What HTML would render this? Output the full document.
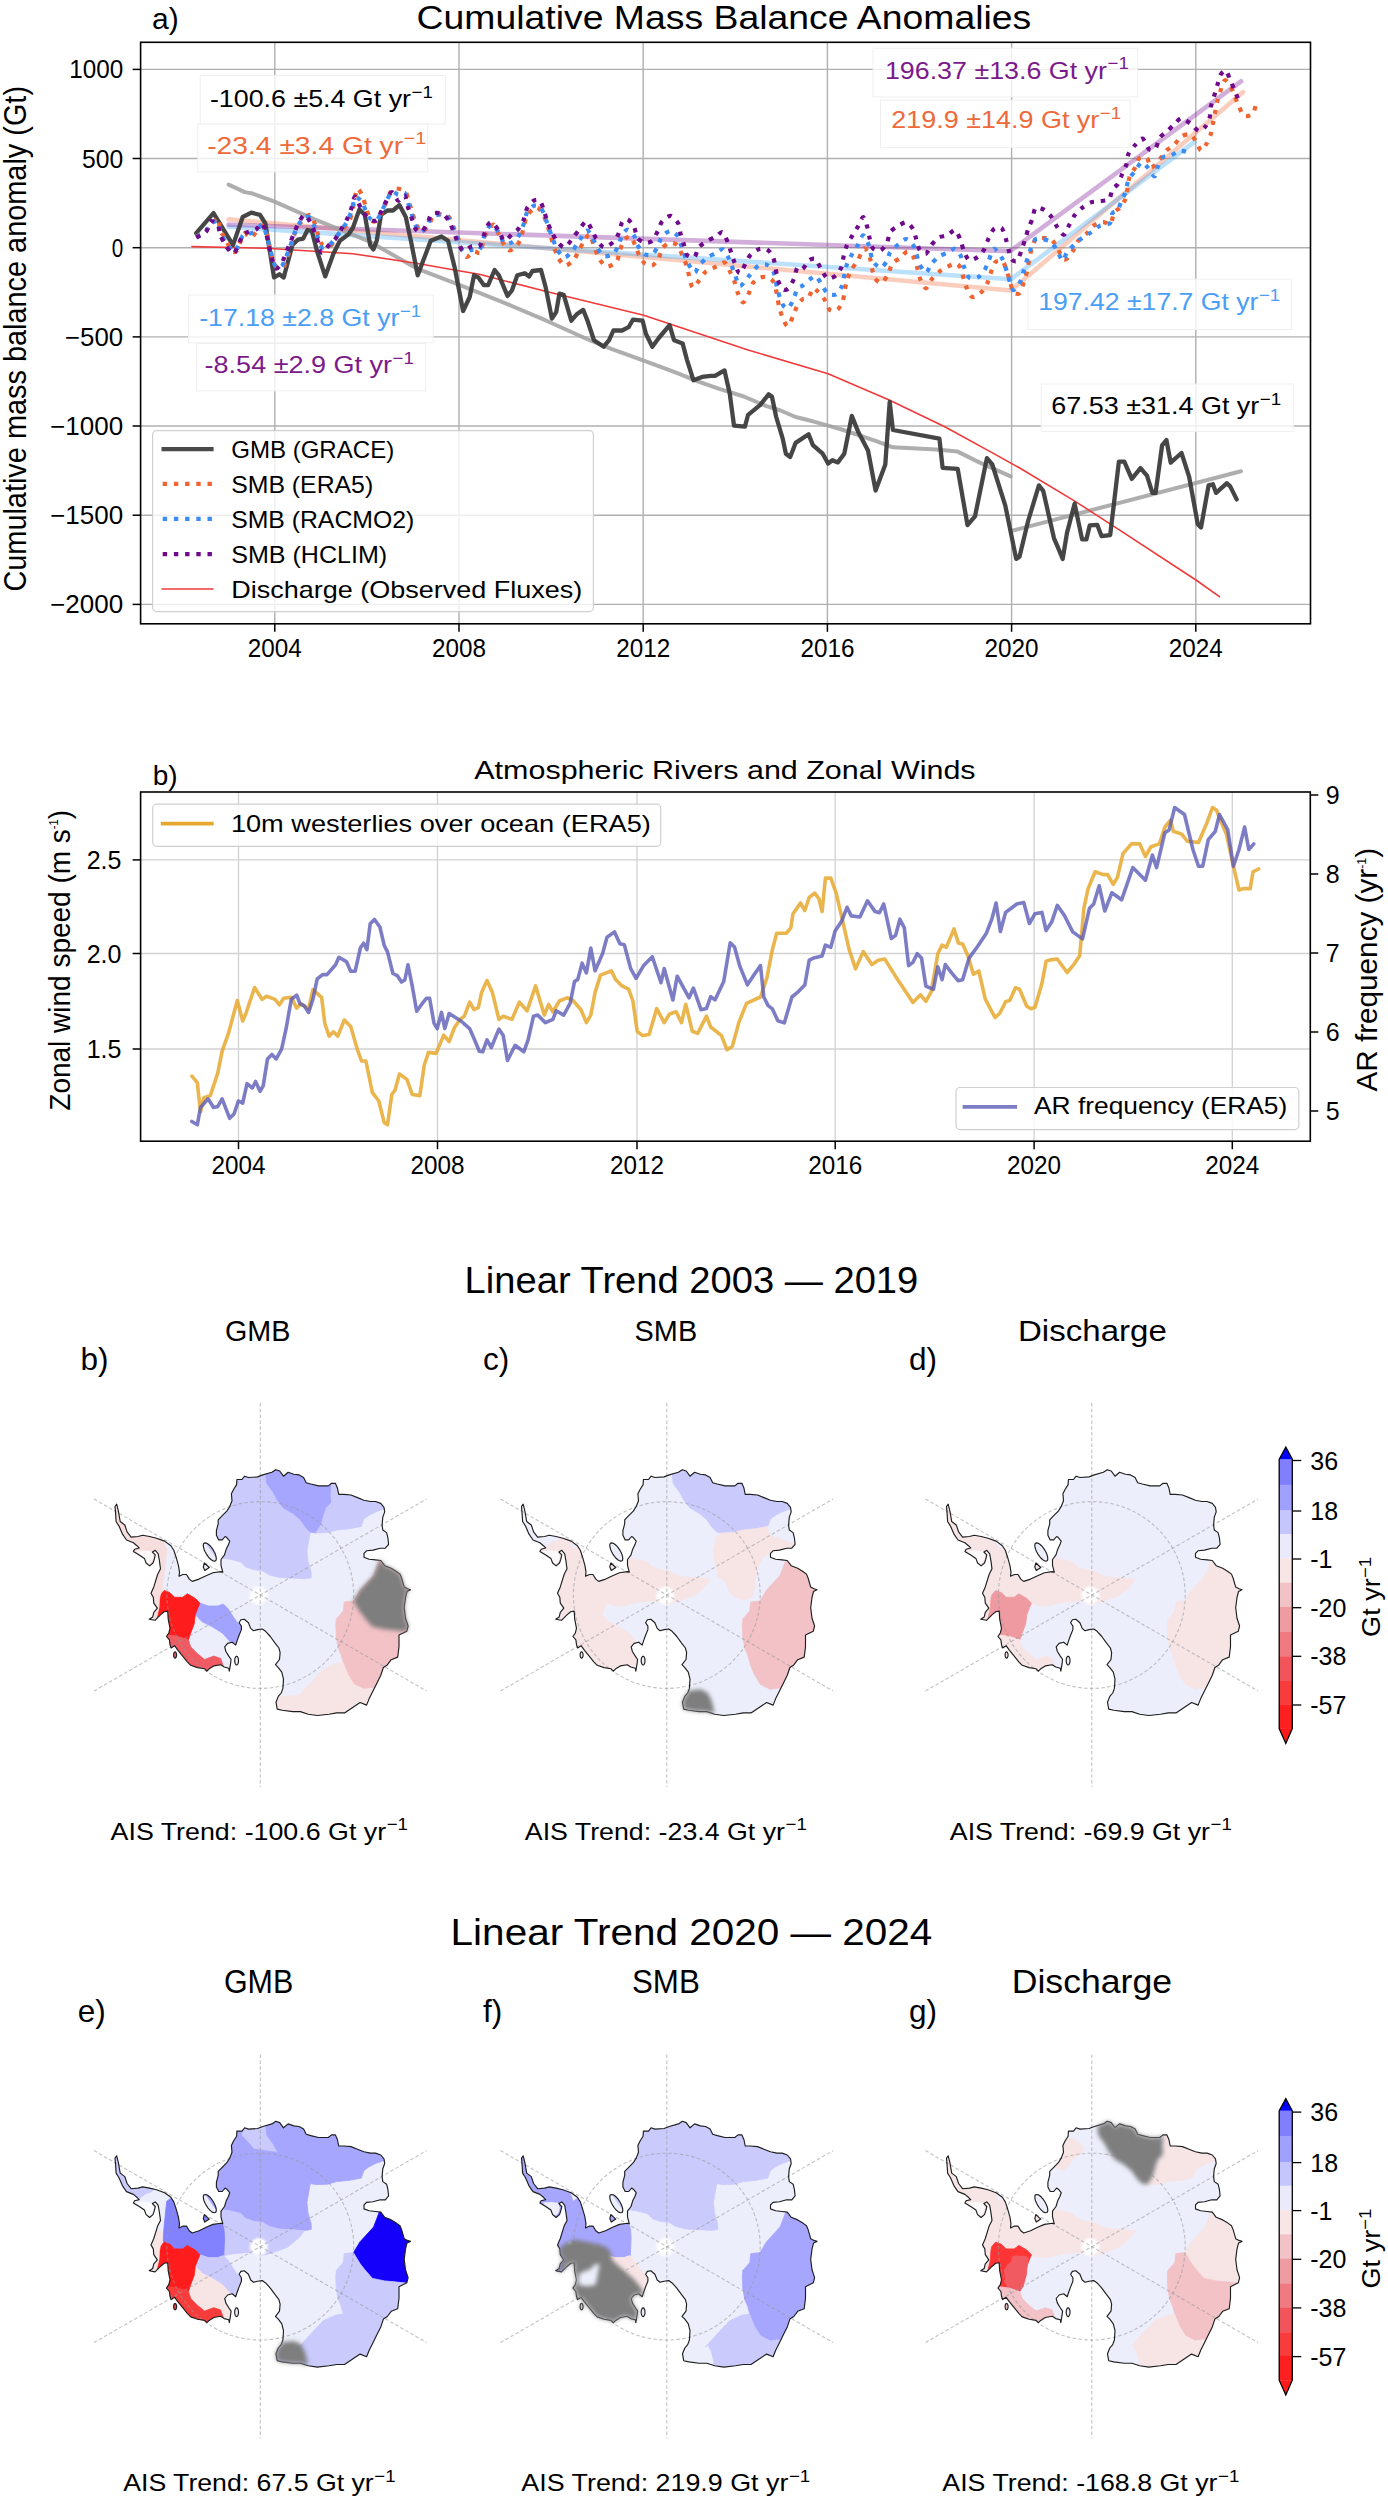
<!DOCTYPE html><html><head><meta charset="utf-8"><style>html,body{margin:0;padding:0;background:#fff;overflow:hidden;}svg{display:block;}text{font-family:"Liberation Sans", sans-serif;}</style></head><body>
<svg width="1388" height="2500" viewBox="0 0 1388 2500">
<rect width="1388" height="2500" fill="#fff"/>
<defs><clipPath id="clipA"><rect x="140.6" y="42.3" width="1169.9" height="581.5"/></clipPath>
<clipPath id="clipB"><rect x="140.6" y="792" width="1169.7" height="349.20000000000005"/></clipPath></defs>
<line x1="274.8" y1="42.3" x2="274.8" y2="623.8" stroke="#b0b0b0" stroke-width="1.4"/>
<line x1="459.0" y1="42.3" x2="459.0" y2="623.8" stroke="#b0b0b0" stroke-width="1.4"/>
<line x1="643.2" y1="42.3" x2="643.2" y2="623.8" stroke="#b0b0b0" stroke-width="1.4"/>
<line x1="827.4" y1="42.3" x2="827.4" y2="623.8" stroke="#b0b0b0" stroke-width="1.4"/>
<line x1="1011.6" y1="42.3" x2="1011.6" y2="623.8" stroke="#b0b0b0" stroke-width="1.4"/>
<line x1="1195.8" y1="42.3" x2="1195.8" y2="623.8" stroke="#b0b0b0" stroke-width="1.4"/>
<line x1="140.6" y1="69.4" x2="1310.5" y2="69.4" stroke="#b0b0b0" stroke-width="1.4"/>
<line x1="140.6" y1="158.5" x2="1310.5" y2="158.5" stroke="#b0b0b0" stroke-width="1.4"/>
<line x1="140.6" y1="247.7" x2="1310.5" y2="247.7" stroke="#b0b0b0" stroke-width="1.4"/>
<line x1="140.6" y1="336.9" x2="1310.5" y2="336.9" stroke="#b0b0b0" stroke-width="1.4"/>
<line x1="140.6" y1="426.0" x2="1310.5" y2="426.0" stroke="#b0b0b0" stroke-width="1.4"/>
<line x1="140.6" y1="515.2" x2="1310.5" y2="515.2" stroke="#b0b0b0" stroke-width="1.4"/>
<line x1="140.6" y1="604.4" x2="1310.5" y2="604.4" stroke="#b0b0b0" stroke-width="1.4"/>
<g clip-path="url(#clipA)" fill="none" stroke-linejoin="round" stroke-linecap="round">
<polyline points="228.6,219.2 1011.0,290.5 1243.1,92.1" stroke="#f07040" stroke-opacity="0.35" stroke-width="4.6"/>
<polyline points="228.6,226.7 1011.0,279.2 1194.5,141.9" stroke="#40a8f8" stroke-opacity="0.35" stroke-width="4.6"/>
<polyline points="228.6,224.6 1010.0,251.2 1241.0,81.3" stroke="#8a2aa0" stroke-opacity="0.38" stroke-width="4.6"/>
<polyline points="228.6,184.6 244.8,192.1 251.3,193.2 275.1,201.9 314.0,219.2 368.0,240.8 417.7,268.9 460.0,285.1 503.2,302.4 546.4,320.7 589.7,340.2 611.3,348.8 643.7,360.7 676.1,372.6 697.7,381.3 719.3,388.8 743.8,396.5 766.5,406.2 780.5,410.5 795.6,417.0 812.9,421.3 828.1,425.6 843.2,430.0 875.6,440.8 892.9,447.3 936.1,449.4 957.7,451.6 979.3,462.4 1010.7,476.4" stroke="#a0a0a0" stroke-opacity="0.85" stroke-width="4"/>
<polyline points="1011.9,530.8 1241.0,471.3" stroke="#a0a0a0" stroke-opacity="0.85" stroke-width="4"/>
<polyline points="191.9,246.6 266.5,248.3 352.9,253.7 417.7,263.5 460.0,271.0 479.3,274.3 546.4,291.6 643.7,315.3 748.1,350.0 828.1,373.8 888.6,399.7 944.8,426.7 990.2,451.6 1019.3,467.8 1075.6,501.6 1112.4,525.4 1196.7,580.5 1219.4,596.7" stroke="#f03a3a" stroke-width="1.6"/>
<polyline points="196.2,233.2 213.5,213.1 233.0,245.1 242.7,217.0 251.3,212.7 260.0,214.8 265.4,223.5 274.0,277.5 279.4,274.3 283.7,277.5 292.4,245.1 297.8,239.7 303.2,238.6 307.5,230.0 311.8,231.0 317.2,251.6 325.2,276.4 333.4,253.7 339.9,240.8 348.6,234.3 352.9,227.8 359.4,209.4 364.8,214.8 370.2,245.1 373.4,249.4 376.7,240.8 381.0,214.8 387.5,210.5 392.9,210.5 399.4,205.1 405.8,217.0 411.3,242.9 417.7,275.3 424.2,258.1 430.7,240.8 441.5,236.5 448.0,240.8 454.5,266.7 463.1,311.0 469.7,297.0 474.0,275.3 478.4,277.5 483.8,285.1 488.1,285.1 494.6,270.0 498.9,275.3 507.5,295.9 511.9,290.5 517.3,275.3 524.8,273.2 529.2,276.4 532.4,271.0 541.0,270.0 545.4,286.2 551.9,318.6 556.2,312.1 559.4,293.7 563.7,294.8 571.3,320.7 576.7,314.3 583.2,309.9 587.5,320.7 594.0,340.2 603.7,346.7 609.1,340.2 613.4,330.5 622.1,330.5 628.6,327.2 632.9,319.7 642.6,320.7 645.9,333.7 652.3,346.7 658.8,338.0 669.6,325.1 674.0,340.2 682.6,343.4 686.9,359.6 693.4,380.2 702.1,376.9 710.7,375.8 715.0,375.8 724.5,370.4 729.7,393.2 734.0,425.6 744.9,426.7 748.1,414.8 760.0,405.1 768.6,394.3 771.9,396.5 776.2,417.0 782.7,438.6 785.9,453.7 790.2,457.0 795.6,442.9 808.6,434.3 812.9,445.1 822.7,453.7 828.1,463.5 832.4,460.2 837.8,462.4 844.3,453.7 851.8,415.9 858.3,432.1 868.0,450.5 875.6,490.5 885.3,464.5 889.7,401.9 892.9,430.0 939.4,438.6 942.6,467.8 957.7,468.9 967.5,525.1 975.0,516.4 986.9,458.1 992.3,464.5 1005.3,505.6 1016.2,558.9 1019.5,556.7 1028.1,521.0 1038.9,485.4 1043.2,490.8 1054.0,538.3 1057.3,545.9 1062.7,558.9 1067.0,532.9 1074.6,503.7 1082.1,539.4 1086.4,539.4 1089.7,525.4 1097.3,524.9 1101.6,536.2 1110.2,535.1 1118.9,461.6 1124.3,461.6 1131.8,478.9 1140.5,468.1 1147.0,475.6 1152.4,492.9 1155.6,492.9 1162.1,445.4 1166.4,440.0 1170.7,462.7 1181.5,453.0 1189.1,476.7 1197.8,524.3 1201.0,527.5 1208.6,485.4 1212.9,484.3 1216.1,492.9 1226.9,483.2 1230.2,486.4 1236.7,499.4" stroke="#3c3c3c" stroke-opacity="0.95" stroke-width="4.3"/>
<path d="M196.2,236.5 C197.5,235.8 203.0,233.5 205.9,231.0 C208.8,228.5 215.9,218.2 217.8,218.1 C219.7,218.0 219.0,227.3 220.0,230.0 C221.0,232.7 224.0,236.0 225.4,238.6 C226.8,241.2 229.4,247.7 230.8,249.4 C232.2,251.1 234.8,253.0 236.2,251.6 C237.6,250.2 240.5,241.1 241.6,238.6 C242.7,236.1 243.5,233.3 244.8,233.2 C246.1,233.1 249.0,238.5 251.3,237.5 C253.6,236.5 259.9,225.7 262.1,225.6 C264.3,225.5 266.2,232.3 267.5,236.5 C268.8,240.7 270.7,253.0 271.9,257.0 C273.1,261.0 274.8,265.1 276.2,266.7 C277.6,268.3 281.3,270.0 282.7,268.9 C284.1,267.8 286.0,260.7 287.0,258.1 C288.0,255.5 289.3,252.3 290.2,249.4 C291.1,246.5 292.2,240.0 293.5,236.5 C294.8,233.0 297.7,226.4 299.9,223.5 C302.1,220.6 307.7,214.7 309.7,214.8 C311.7,214.9 314.0,221.9 315.1,224.6 C316.2,227.3 317.3,232.7 318.3,235.4 C319.3,238.1 320.9,243.8 322.6,245.1 C324.3,246.4 329.6,246.1 331.3,245.1 C333.0,244.1 334.2,239.5 335.6,237.5 C337.0,235.5 340.2,232.3 342.1,230.0 C344.0,227.7 348.3,223.1 349.7,220.2 C351.1,217.3 351.9,212.6 352.9,208.4 C353.9,204.2 355.9,190.5 357.2,188.9 C358.5,187.3 361.4,194.0 362.6,196.5 C363.8,199.0 364.9,204.3 365.9,207.3 C366.9,210.3 368.9,217.3 370.2,219.2 C371.5,221.1 374.0,222.3 375.6,221.3 C377.2,220.3 380.7,214.2 382.1,211.6 C383.5,209.0 385.0,204.9 386.4,201.9 C387.8,198.9 390.4,190.3 392.9,188.9 C395.4,187.5 402.6,189.4 404.8,191.1 C407.0,192.8 408.1,199.0 409.1,201.9 C410.1,204.8 411.4,210.0 412.3,212.7 C413.2,215.4 414.4,219.8 415.6,222.4 C416.8,225.0 419.3,231.7 421.0,232.1 C422.7,232.5 426.8,227.9 428.5,225.6 C430.2,223.3 432.0,216.2 434.0,214.8 C436.0,213.4 441.7,214.5 443.7,214.8 C445.7,215.1 447.8,215.4 449.1,217.0 C450.4,218.6 452.3,224.1 453.4,226.7 C454.5,229.3 456.7,233.6 457.7,236.5 C458.7,239.4 459.8,245.6 461.0,248.3 C462.2,251.0 464.8,256.6 466.5,257.0 C468.2,257.4 472.1,252.2 474.0,251.6 C475.9,251.0 479.2,254.4 480.5,252.7 C481.8,251.0 482.8,241.5 483.8,238.6 C484.8,235.7 486.8,232.9 488.1,231.0 C489.4,229.1 492.1,224.2 493.5,224.6 C494.9,225.0 497.5,231.6 498.9,234.3 C500.3,237.0 502.9,242.9 504.3,245.1 C505.7,247.3 508.0,250.5 509.7,250.5 C511.4,250.5 515.7,247.1 517.3,245.1 C518.9,243.1 520.3,239.3 521.6,235.4 C522.9,231.5 525.0,219.6 527.0,215.9 C529.0,212.2 534.5,207.4 536.7,207.3 C538.9,207.2 541.8,212.4 543.2,214.8 C544.6,217.2 546.5,222.7 547.5,225.6 C548.5,228.5 549.5,232.5 550.8,236.5 C552.1,240.5 555.4,252.0 557.3,255.9 C559.2,259.8 562.6,265.0 564.8,265.6 C567.0,266.2 571.6,262.2 573.5,260.2 C575.4,258.2 577.5,253.1 578.9,250.5 C580.3,247.9 582.9,243.0 584.3,240.8 C585.7,238.6 588.4,233.6 589.7,234.3 C591.0,235.0 592.7,242.9 594.0,246.2 C595.3,249.5 597.7,256.4 599.4,259.1 C601.1,261.8 604.7,266.4 607.0,266.7 C609.3,267.0 615.0,263.5 616.7,261.3 C618.4,259.1 618.9,253.4 619.9,250.5 C620.9,247.6 622.9,241.6 624.3,239.7 C625.7,237.8 629.3,235.8 630.7,236.5 C632.1,237.2 633.9,242.5 635.1,245.1 C636.3,247.7 638.1,253.4 639.4,255.9 C640.7,258.4 643.1,262.2 644.8,263.5 C646.5,264.8 650.4,266.3 652.3,265.6 C654.2,264.9 657.5,260.4 658.8,258.1 C660.1,255.8 660.7,250.3 662.1,248.3 C663.5,246.3 667.6,243.3 669.6,242.9 C671.6,242.5 675.5,243.4 677.2,245.1 C678.9,246.8 681.3,253.0 682.6,255.9 C683.9,258.8 685.6,262.5 686.9,266.7 C688.2,270.9 690.7,285.3 692.3,287.2 C693.9,289.1 697.1,282.8 698.8,280.8 C700.5,278.8 703.0,274.0 705.3,272.1 C707.6,270.2 713.5,268.0 716.1,266.7 C718.7,265.4 722.8,261.7 724.7,262.4 C726.6,263.1 728.9,269.5 730.2,272.1 C731.5,274.7 733.5,279.1 734.5,281.8 C735.5,284.5 736.5,289.9 737.7,292.6 C738.9,295.3 741.7,302.3 743.2,302.4 C744.7,302.5 747.3,296.3 748.6,293.7 C749.9,291.1 751.4,285.1 753.0,282.9 C754.6,280.7 758.5,278.2 760.5,277.5 C762.5,276.8 766.2,276.6 768.1,277.5 C770.0,278.4 773.2,280.3 774.6,284.0 C776.0,287.7 777.9,301.3 778.9,305.6 C779.9,309.9 781.0,313.7 782.1,316.4 C783.2,319.1 786.0,326.1 787.5,326.1 C789.0,326.1 791.7,319.1 793.0,316.4 C794.3,313.7 796.0,307.9 797.3,305.6 C798.6,303.3 801.3,300.1 802.7,299.1 C804.1,298.1 806.7,299.4 808.1,298.0 C809.5,296.6 812.2,289.2 813.5,288.3 C814.8,287.4 816.4,290.2 817.8,291.6 C819.2,293.0 822.7,296.7 824.3,299.1 C825.9,301.5 828.0,308.5 829.7,309.9 C831.4,311.3 835.6,311.0 837.3,309.9 C839.0,308.8 841.7,303.9 842.7,301.3 C843.7,298.7 844.2,293.4 844.8,290.5 C845.4,287.6 846.1,282.4 847.0,279.7 C847.9,277.0 849.9,272.6 851.3,270.0 C852.7,267.4 856.1,263.1 857.8,260.2 C859.5,257.3 862.7,248.7 864.3,248.3 C865.9,247.9 868.7,254.4 869.7,257.0 C870.7,259.6 871.1,264.9 871.8,267.8 C872.5,270.7 873.8,276.6 875.1,278.6 C876.4,280.6 879.9,283.5 881.6,282.9 C883.3,282.3 886.6,276.9 888.0,274.3 C889.4,271.7 890.8,265.7 892.4,263.5 C894.0,261.3 897.9,259.7 899.9,258.1 C901.9,256.5 905.6,251.6 907.5,251.6 C909.4,251.6 912.7,255.9 914.0,258.1 C915.3,260.3 916.3,264.9 917.2,267.8 C918.1,270.7 919.3,277.0 920.5,279.7 C921.7,282.4 924.5,288.3 925.9,288.3 C927.3,288.3 929.6,281.9 931.3,279.7 C933.0,277.5 936.6,273.8 938.8,272.1 C941.0,270.4 945.2,267.8 947.5,266.7 C949.8,265.6 954.4,263.4 956.1,263.5 C957.8,263.6 959.4,265.8 960.4,267.8 C961.4,269.8 962.8,275.9 963.7,278.6 C964.6,281.3 965.8,285.8 966.9,288.3 C968.0,290.8 970.3,296.6 972.3,297.0 C974.3,297.4 980.1,293.5 982.1,291.6 C984.1,289.7 986.4,285.4 987.5,282.9 C988.6,280.4 989.7,275.9 990.7,273.2 C991.7,270.5 993.4,264.0 995.0,262.4 C996.6,260.8 1001.1,260.2 1002.6,261.3 C1004.1,262.4 1005.5,267.7 1006.5,270.4 C1007.5,273.1 1009.3,278.9 1010.2,281.8 C1011.1,284.7 1011.8,290.6 1013.0,292.1 C1014.2,293.6 1018.1,294.4 1019.5,293.1 C1020.9,291.8 1022.8,285.2 1023.8,282.3 C1024.8,279.4 1026.0,275.8 1027.0,271.5 C1028.0,267.2 1030.1,254.2 1031.3,249.9 C1032.5,245.6 1034.4,240.7 1035.7,239.1 C1037.0,237.5 1039.1,238.0 1041.1,238.0 C1043.1,238.0 1048.6,237.8 1050.8,239.1 C1053.0,240.4 1055.7,245.2 1057.3,247.8 C1058.9,250.4 1061.4,257.2 1062.7,258.6 C1064.0,260.0 1065.6,259.8 1067.0,258.6 C1068.4,257.4 1072.1,252.2 1073.5,249.9 C1074.9,247.6 1076.1,243.5 1077.8,241.3 C1079.5,239.1 1084.4,235.7 1086.4,233.7 C1088.4,231.7 1090.7,227.7 1092.9,226.1 C1095.1,224.5 1100.4,222.1 1102.7,221.8 C1105.0,221.5 1108.6,225.3 1110.2,224.0 C1111.8,222.7 1113.2,214.3 1114.5,212.1 C1115.8,209.9 1118.4,209.5 1119.9,207.8 C1121.4,206.1 1124.4,201.7 1125.4,199.1 C1126.4,196.5 1126.9,191.3 1127.5,188.3 C1128.1,185.3 1128.7,179.1 1129.7,176.4 C1130.7,173.7 1133.8,170.2 1135.1,167.8 C1136.4,165.4 1137.8,159.4 1139.4,158.1 C1141.0,156.8 1145.4,156.8 1147.0,158.1 C1148.6,159.4 1149.6,167.7 1151.3,167.8 C1153.0,167.9 1157.9,161.4 1159.9,159.1 C1161.9,156.8 1164.5,152.4 1166.4,150.5 C1168.3,148.6 1172.0,147.0 1174.0,145.1 C1176.0,143.2 1179.3,137.8 1181.5,136.4 C1183.7,135.0 1188.3,133.7 1190.2,134.3 C1192.1,134.9 1194.2,138.6 1195.6,140.8 C1197.0,143.0 1199.6,150.1 1201.0,150.5 C1202.4,150.9 1205.1,146.2 1206.4,144.0 C1207.7,141.8 1209.8,137.0 1210.7,134.3 C1211.6,131.6 1212.3,126.4 1212.9,123.5 C1213.5,120.6 1214.4,115.6 1215.0,112.7 C1215.6,109.8 1216.5,104.8 1217.2,101.9 C1217.9,99.0 1219.4,94.0 1220.4,91.1 C1221.4,88.2 1223.5,81.0 1224.8,80.3 C1226.1,79.6 1228.9,83.7 1230.2,85.7 C1231.5,87.7 1233.4,92.7 1234.5,95.4 C1235.6,98.1 1237.5,103.5 1238.8,106.2 C1240.1,108.9 1242.3,114.9 1244.2,115.9 C1246.1,116.9 1251.3,115.5 1252.9,113.8 C1254.5,112.1 1255.7,104.4 1256.1,103.0" stroke="#f06432" stroke-width="4.2" stroke-dasharray="4.4 6.8" stroke-linecap="butt"/>
<path d="M196.2,237.0 C197.5,236.2 204.0,233.2 205.9,231.5 C207.8,229.8 208.7,225.4 210.3,224.0 C211.9,222.6 216.5,220.0 217.8,221.0 C219.1,222.1 219.0,229.2 220.0,231.9 C221.0,234.7 223.7,238.9 225.4,241.5 C227.1,244.2 231.3,251.3 233.0,251.8 C234.7,252.4 237.1,247.9 238.4,245.8 C239.7,243.6 241.4,237.2 242.7,235.6 C244.0,234.1 246.4,234.5 248.1,233.9 C249.8,233.4 253.7,232.8 255.6,231.5 C257.5,230.3 260.6,224.2 262.1,224.7 C263.6,225.1 265.6,232.4 266.5,234.9 C267.4,237.4 267.5,239.1 268.6,243.2 C269.7,247.3 273.4,262.8 275.1,265.8 C276.8,268.9 280.2,267.4 281.6,266.3 C283.0,265.1 284.8,259.8 285.9,257.2 C287.0,254.6 289.1,249.6 290.2,246.5 C291.3,243.3 293.3,236.4 294.5,233.4 C295.7,230.4 297.6,226.3 298.9,224.1 C300.2,222.0 302.9,218.3 304.3,217.4 C305.7,216.6 308.3,216.3 309.7,217.7 C311.1,219.2 314.0,225.7 315.1,228.5 C316.2,231.3 317.4,236.3 318.3,238.8 C319.2,241.3 320.2,246.4 321.6,247.3 C323.0,248.1 327.2,246.3 329.1,245.1 C331.0,243.9 333.9,240.1 335.6,238.0 C337.3,235.8 340.5,231.3 342.1,229.0 C343.7,226.7 346.2,223.3 347.5,220.8 C348.8,218.3 350.8,213.2 351.8,210.1 C352.8,207.0 353.8,198.7 355.1,197.6 C356.4,196.4 359.6,198.8 361.5,201.5 C363.4,204.1 367.1,215.1 369.1,217.5 C371.1,220.0 375.0,220.8 376.7,219.9 C378.4,219.0 380.8,213.1 382.1,210.6 C383.4,208.1 385.1,203.9 386.4,201.4 C387.7,198.9 390.2,192.4 391.8,191.5 C393.4,190.7 396.6,194.6 398.3,194.8 C400.0,195.0 403.5,192.0 404.8,193.0 C406.1,194.1 407.1,200.2 408.0,202.8 C408.9,205.4 410.3,209.8 411.3,212.8 C412.3,215.8 414.3,222.7 415.6,225.3 C416.9,227.9 419.4,232.1 421.0,232.1 C422.6,232.1 426.1,227.2 427.5,225.1 C428.9,223.1 429.8,218.2 431.8,216.7 C433.8,215.3 440.3,214.1 442.6,214.4 C444.9,214.6 447.7,217.0 449.1,218.9 C450.5,220.8 452.3,226.0 453.4,228.6 C454.5,231.3 456.4,235.9 457.7,238.9 C459.0,241.9 461.2,249.6 463.1,251.1 C465.0,252.6 469.7,250.2 471.9,250.0 C474.1,249.8 477.9,251.4 479.5,249.7 C481.1,248.0 482.7,240.0 483.8,237.2 C484.9,234.3 487.0,229.8 488.1,228.1 C489.2,226.4 491.0,223.7 492.4,224.3 C493.8,225.0 497.3,230.3 498.9,232.8 C500.5,235.3 502.6,241.9 504.3,243.2 C506.0,244.4 510.0,243.2 511.9,242.4 C513.8,241.5 516.8,238.9 518.4,236.4 C520.0,234.0 522.7,226.9 523.8,223.7 C524.9,220.6 525.7,214.9 527.0,212.5 C528.3,210.2 531.8,206.7 533.5,205.9 C535.2,205.1 538.6,205.3 540.0,206.5 C541.4,207.7 543.3,212.5 544.3,214.9 C545.3,217.2 546.5,221.3 547.5,224.2 C548.5,227.0 550.6,232.9 551.9,236.3 C553.2,239.7 555.6,246.8 557.3,249.6 C559.0,252.4 562.8,257.2 564.8,257.4 C566.8,257.5 570.5,253.0 572.4,250.9 C574.3,248.7 577.0,244.0 578.9,241.3 C580.8,238.6 584.7,231.4 586.4,230.6 C588.1,229.9 590.5,233.6 591.8,235.6 C593.1,237.6 594.6,242.9 596.2,245.7 C597.8,248.4 601.4,255.1 603.7,256.2 C606.0,257.2 611.4,255.1 613.4,253.6 C615.4,252.1 617.6,247.2 618.8,244.8 C620.0,242.3 620.9,236.9 622.1,234.9 C623.3,232.9 625.9,229.5 627.5,229.6 C629.1,229.7 632.7,233.6 634.0,235.6 C635.3,237.6 635.8,242.1 637.2,244.6 C638.6,247.1 642.8,252.9 644.8,254.2 C646.8,255.5 650.6,255.5 652.3,254.4 C654.0,253.4 656.5,249.0 657.8,246.5 C659.1,244.1 660.4,238.2 662.1,236.2 C663.8,234.1 668.5,230.9 670.7,230.9 C672.9,231.0 677.0,234.9 678.3,236.6 C679.6,238.2 679.7,241.2 680.4,243.3 C681.1,245.3 682.8,249.7 683.7,252.1 C684.6,254.5 685.5,258.6 686.9,261.3 C688.3,264.1 692.9,271.8 694.5,272.4 C696.1,273.0 697.1,267.7 698.8,265.7 C700.5,263.7 705.2,259.1 707.5,257.4 C709.8,255.7 714.1,254.2 716.1,253.1 C718.1,252.0 721.0,248.8 722.6,249.3 C724.2,249.8 726.9,254.8 728.0,256.8 C729.1,258.9 730.3,262.4 731.2,264.6 C732.1,266.8 733.3,270.2 734.5,273.1 C735.7,275.9 737.9,285.7 739.9,286.0 C741.9,286.3 747.2,277.9 749.7,275.2 C752.2,272.5 756.1,267.1 758.4,265.7 C760.7,264.3 765.0,264.0 767.0,264.9 C769.0,265.7 772.1,268.3 773.5,271.7 C774.9,275.2 776.5,286.4 777.8,290.9 C779.1,295.4 781.8,303.1 783.2,305.3 C784.6,307.6 787.2,309.0 788.6,308.0 C790.0,307.0 792.8,300.6 794.0,298.0 C795.2,295.4 796.1,290.3 797.3,288.6 C798.5,286.9 801.1,286.7 802.7,285.5 C804.3,284.4 807.5,281.2 809.2,279.9 C810.9,278.6 814.0,275.6 815.6,276.0 C817.2,276.5 819.4,281.1 821.0,283.4 C822.6,285.7 825.5,291.9 827.5,293.4 C829.5,294.9 834.3,295.3 836.2,294.4 C838.1,293.5 840.6,288.9 841.6,286.7 C842.6,284.5 843.0,281.0 843.7,278.0 C844.4,275.0 845.8,267.4 847.0,264.1 C848.2,260.9 851.0,256.1 852.4,253.5 C853.8,251.0 856.4,247.6 857.8,245.1 C859.2,242.7 861.9,235.8 863.2,235.3 C864.5,234.9 866.6,240.1 867.5,241.9 C868.4,243.7 869.0,246.2 869.7,248.7 C870.4,251.3 871.5,258.4 872.9,261.0 C874.3,263.6 878.6,267.9 880.5,267.9 C882.4,267.9 885.7,263.0 887.0,260.9 C888.3,258.8 888.6,254.6 890.2,252.3 C891.8,250.1 896.7,245.7 898.9,243.9 C901.1,242.1 904.5,238.9 906.4,239.0 C908.3,239.0 911.6,242.5 912.9,244.4 C914.2,246.2 915.2,250.2 916.1,252.8 C917.0,255.4 918.1,261.2 919.4,263.9 C920.7,266.5 924.3,272.7 925.9,272.7 C927.5,272.8 929.6,266.3 931.3,264.1 C933.0,262.0 936.6,258.1 938.8,256.5 C941.0,255.0 945.3,253.7 947.5,252.6 C949.7,251.6 953.3,248.3 955.0,248.7 C956.7,249.0 959.2,252.8 960.4,255.2 C961.6,257.5 962.5,263.0 963.7,266.0 C964.9,268.9 967.2,276.1 969.1,277.6 C971.0,279.1 975.7,278.3 977.7,277.4 C979.7,276.4 982.8,272.9 984.2,270.7 C985.6,268.6 987.2,264.2 988.5,261.3 C989.8,258.4 992.2,249.1 994.0,248.7 C995.8,248.3 1000.5,255.7 1002.2,258.6 C1003.9,261.5 1005.1,266.2 1006.5,270.4 C1007.9,274.6 1011.1,288.4 1013.0,289.9 C1014.9,291.4 1019.1,283.9 1020.5,281.3 C1021.9,278.7 1022.5,274.6 1023.8,270.4 C1025.1,266.2 1028.7,254.1 1030.3,249.9 C1031.9,245.7 1034.1,240.5 1035.7,239.1 C1037.3,237.7 1040.2,238.8 1042.1,239.1 C1044.0,239.4 1047.8,240.0 1049.7,241.3 C1051.6,242.6 1054.5,246.2 1056.2,248.8 C1057.9,251.4 1061.3,260.3 1062.7,260.7 C1064.1,261.1 1065.4,254.3 1067.0,252.1 C1068.6,249.9 1072.6,246.4 1074.6,244.5 C1076.6,242.6 1079.9,239.6 1082.1,238.0 C1084.3,236.4 1088.5,234.2 1090.8,232.6 C1093.1,231.0 1096.8,227.4 1099.4,226.1 C1102.0,224.8 1108.5,224.6 1110.2,222.9 C1111.9,221.2 1111.4,214.9 1112.4,213.2 C1113.4,211.5 1116.5,211.8 1117.8,209.9 C1119.1,208.0 1121.1,201.4 1122.1,199.1 C1123.1,196.8 1124.5,195.2 1125.4,192.6 C1126.3,190.0 1127.3,182.6 1128.6,179.7 C1129.9,176.8 1133.4,173.3 1135.1,171.0 C1136.8,168.7 1139.9,162.8 1141.6,162.4 C1143.3,162.0 1146.3,165.9 1148.0,167.8 C1149.7,169.7 1153.2,176.5 1154.5,176.4 C1155.8,176.3 1156.6,169.3 1157.8,166.7 C1159.0,164.1 1161.5,158.4 1163.2,157.0 C1164.9,155.6 1168.5,156.8 1170.7,155.9 C1172.9,155.0 1176.9,150.9 1179.4,150.5 C1181.9,150.1 1187.8,152.4 1189.1,152.7" stroke="#3c8cf5" stroke-width="4.2" stroke-dasharray="4.4 6.8" stroke-linecap="butt"/>
<path d="M196.2,237.5 C197.5,236.8 204.0,234.3 205.9,232.1 C207.8,229.9 208.7,222.3 210.3,221.3 C211.9,220.3 216.5,222.9 217.8,224.6 C219.1,226.3 219.0,231.6 220.0,234.3 C221.0,237.0 223.7,242.5 225.4,245.1 C227.1,247.7 231.3,253.7 233.0,253.7 C234.7,253.7 237.1,247.7 238.4,245.1 C239.7,242.5 241.4,236.0 242.7,234.3 C244.0,232.6 246.4,232.7 248.1,232.1 C249.8,231.5 253.7,231.1 255.6,230.0 C257.5,228.9 260.6,222.8 262.1,223.5 C263.6,224.2 265.6,232.5 266.5,235.4 C267.4,238.3 267.5,240.8 268.6,245.1 C269.7,249.4 273.4,265.3 275.1,267.8 C276.8,270.3 280.2,265.5 281.6,263.5 C283.0,261.5 284.8,255.4 285.9,252.7 C287.0,250.0 289.1,245.6 290.2,242.9 C291.3,240.2 293.3,234.8 294.5,232.1 C295.7,229.4 297.6,224.7 298.9,222.4 C300.2,220.1 302.9,214.9 304.3,214.8 C305.7,214.7 308.3,218.8 309.7,221.3 C311.1,223.8 314.0,230.3 315.1,233.2 C316.2,236.1 317.4,240.3 318.3,242.9 C319.2,245.5 320.2,252.4 321.6,252.7 C323.0,253.0 327.2,247.0 329.1,245.1 C331.0,243.2 333.9,240.9 335.6,238.6 C337.3,236.3 340.5,230.5 342.1,227.8 C343.7,225.1 346.2,220.8 347.5,218.1 C348.8,215.4 350.8,210.2 351.8,207.3 C352.8,204.4 353.8,196.2 355.1,196.5 C356.4,196.8 359.6,206.4 361.5,209.4 C363.4,212.4 367.1,217.8 369.1,219.2 C371.1,220.6 375.0,221.5 376.7,220.2 C378.4,218.9 380.8,212.0 382.1,209.4 C383.4,206.8 385.1,203.1 386.4,200.8 C387.7,198.5 390.2,192.1 391.8,192.1 C393.4,192.1 396.6,200.4 398.3,200.8 C400.0,201.2 403.5,194.5 404.8,195.4 C406.1,196.3 407.1,204.4 408.0,207.3 C408.9,210.2 410.3,214.1 411.3,217.0 C412.3,219.9 414.3,226.9 415.6,228.9 C416.9,230.9 419.4,232.8 421.0,232.1 C422.6,231.4 426.1,225.9 427.5,223.5 C428.9,221.1 429.8,215.1 431.8,213.8 C433.8,212.5 440.3,212.8 442.6,213.8 C444.9,214.8 447.7,219.0 449.1,221.3 C450.5,223.6 452.3,228.3 453.4,231.0 C454.5,233.7 456.4,239.3 457.7,241.9 C459.0,244.5 461.2,249.9 463.1,250.5 C465.0,251.1 469.7,246.8 471.9,246.2 C474.1,245.6 477.9,247.6 479.5,246.2 C481.1,244.8 482.7,238.3 483.8,235.4 C484.9,232.5 487.0,226.3 488.1,224.6 C489.2,222.9 491.0,221.5 492.4,222.4 C493.8,223.3 497.3,228.5 498.9,231.0 C500.5,233.5 502.6,240.4 504.3,240.8 C506.0,241.2 510.0,235.9 511.9,234.3 C513.8,232.7 516.8,230.9 518.4,228.9 C520.0,226.9 522.7,221.9 523.8,219.2 C524.9,216.5 525.7,210.9 527.0,208.4 C528.3,205.9 531.8,201.8 533.5,200.8 C535.2,199.8 538.6,199.4 540.0,200.8 C541.4,202.2 543.3,208.7 544.3,211.6 C545.3,214.5 546.5,219.7 547.5,222.4 C548.5,225.1 550.6,229.5 551.9,232.1 C553.2,234.7 555.6,239.9 557.3,241.9 C559.0,243.9 562.8,247.7 564.8,247.3 C566.8,246.9 570.5,240.9 572.4,238.6 C574.3,236.3 577.0,232.3 578.9,230.0 C580.8,227.7 584.7,221.3 586.4,221.3 C588.1,221.3 590.5,227.7 591.8,230.0 C593.1,232.3 594.6,236.3 596.2,238.6 C597.8,240.9 601.4,246.9 603.7,247.3 C606.0,247.7 611.4,243.8 613.4,241.9 C615.4,240.0 617.6,235.8 618.8,233.2 C620.0,230.6 620.9,224.3 622.1,222.4 C623.3,220.5 625.9,218.6 627.5,219.2 C629.1,219.8 632.7,224.3 634.0,226.7 C635.3,229.1 635.8,235.3 637.2,237.5 C638.6,239.7 642.8,242.5 644.8,242.9 C646.8,243.3 650.6,242.4 652.3,240.8 C654.0,239.2 656.5,233.6 657.8,231.0 C659.1,228.4 660.4,223.3 662.1,221.3 C663.8,219.3 668.5,215.6 670.7,215.9 C672.9,216.2 677.0,221.2 678.3,223.5 C679.6,225.8 679.7,230.5 680.4,233.2 C681.1,235.9 682.8,241.1 683.7,244.0 C684.6,246.9 685.5,253.1 686.9,254.8 C688.3,256.5 692.9,258.0 694.5,257.0 C696.1,256.0 697.1,249.5 698.8,247.3 C700.5,245.1 705.2,242.2 707.5,240.8 C709.8,239.4 714.1,237.7 716.1,236.5 C718.1,235.3 721.0,231.2 722.6,232.1 C724.2,233.0 726.9,240.2 728.0,242.9 C729.1,245.6 730.3,250.1 731.2,252.7 C732.1,255.3 733.3,259.7 734.5,262.4 C735.7,265.1 737.9,274.1 739.9,273.2 C741.9,272.3 747.2,259.1 749.7,255.9 C752.2,252.7 756.1,250.3 758.4,249.4 C760.7,248.5 765.0,248.2 767.0,249.4 C769.0,250.6 772.1,254.1 773.5,258.1 C774.9,262.1 776.5,275.5 777.8,279.7 C779.1,283.9 781.8,288.3 783.2,289.4 C784.6,290.5 787.2,289.7 788.6,288.3 C790.0,286.9 792.8,281.3 794.0,278.6 C795.2,275.9 796.1,269.1 797.3,267.8 C798.5,266.5 801.1,269.9 802.7,268.9 C804.3,267.9 807.5,261.5 809.2,260.2 C810.9,258.9 814.0,257.9 815.6,259.1 C817.2,260.3 819.4,266.3 821.0,268.9 C822.6,271.5 825.5,277.7 827.5,278.6 C829.5,279.5 834.3,277.0 836.2,275.4 C838.1,273.8 840.6,269.3 841.6,266.7 C842.6,264.1 843.0,258.8 843.7,255.9 C844.4,253.0 845.8,247.8 847.0,245.1 C848.2,242.4 851.0,237.9 852.4,235.4 C853.8,232.9 856.4,229.2 857.8,226.7 C859.2,224.2 861.9,216.9 863.2,217.0 C864.5,217.1 866.6,224.9 867.5,227.8 C868.4,230.7 869.0,235.9 869.7,238.6 C870.4,241.3 871.5,246.7 872.9,248.3 C874.3,249.9 878.6,251.2 880.5,250.5 C882.4,249.8 885.7,245.4 887.0,242.9 C888.3,240.4 888.6,234.4 890.2,232.1 C891.8,229.8 896.7,226.9 898.9,225.6 C901.1,224.3 904.5,222.0 906.4,222.4 C908.3,222.8 911.6,226.7 912.9,228.9 C914.2,231.1 915.2,235.9 916.1,238.6 C917.0,241.3 918.1,247.4 919.4,249.4 C920.7,251.4 924.3,254.3 925.9,253.7 C927.5,253.1 929.6,247.3 931.3,245.1 C933.0,242.9 936.6,238.8 938.8,237.5 C941.0,236.2 945.3,236.4 947.5,235.4 C949.7,234.4 953.3,229.4 955.0,230.0 C956.7,230.6 959.2,237.0 960.4,239.7 C961.6,242.4 962.5,247.8 963.7,250.5 C964.9,253.2 967.2,259.3 969.1,260.2 C971.0,261.1 975.7,258.4 977.7,257.0 C979.7,255.6 982.8,251.9 984.2,249.4 C985.6,246.9 987.2,241.3 988.5,238.6 C989.8,235.9 992.3,230.3 994.0,228.9 C995.7,227.5 999.9,226.5 1001.5,227.8 C1003.1,229.1 1004.9,235.7 1005.8,238.6 C1006.7,241.5 1007.8,247.1 1008.6,249.9 C1009.4,252.7 1010.7,258.2 1011.9,259.6 C1013.1,261.0 1016.0,262.0 1017.3,260.7 C1018.6,259.4 1020.6,252.6 1021.6,249.9 C1022.6,247.2 1024.0,242.9 1024.9,240.2 C1025.8,237.5 1027.1,232.3 1028.1,229.4 C1029.1,226.5 1031.4,221.5 1032.4,218.6 C1033.4,215.7 1034.1,209.0 1035.7,207.8 C1037.3,206.6 1042.1,208.6 1044.3,209.9 C1046.5,211.2 1050.2,215.2 1051.9,217.5 C1053.6,219.8 1055.7,224.9 1057.3,227.2 C1058.9,229.5 1062.2,235.1 1063.8,234.8 C1065.4,234.5 1067.8,227.7 1069.2,225.1 C1070.6,222.5 1072.9,217.6 1074.6,215.3 C1076.3,213.0 1079.9,209.5 1082.1,207.8 C1084.3,206.1 1088.5,203.3 1090.8,202.4 C1093.1,201.5 1097.0,201.7 1099.4,201.3 C1101.8,200.9 1107.4,200.7 1109.1,199.1 C1110.8,197.5 1111.2,191.4 1112.4,189.4 C1113.6,187.4 1116.5,186.0 1117.8,184.0 C1119.1,182.0 1121.0,176.9 1122.1,174.3 C1123.2,171.7 1125.5,167.2 1126.4,164.5 C1127.3,161.8 1127.4,156.3 1128.6,153.7 C1129.8,151.1 1133.2,147.1 1135.1,145.1 C1137.0,143.1 1140.7,138.0 1142.6,138.6 C1144.5,139.2 1147.4,148.1 1149.1,149.4 C1150.8,150.7 1154.2,149.9 1155.6,148.3 C1157.0,146.7 1158.3,139.8 1159.9,137.5 C1161.5,135.2 1165.6,132.7 1167.5,131.0 C1169.4,129.3 1172.1,126.3 1174.0,124.6 C1175.9,122.9 1179.3,118.2 1181.5,118.1 C1183.7,118.0 1187.9,121.8 1190.2,123.5 C1192.5,125.2 1196.8,130.6 1198.8,131.0 C1200.8,131.4 1203.9,128.4 1205.3,126.7 C1206.7,125.0 1208.9,120.7 1209.6,118.1 C1210.3,115.5 1210.1,110.2 1210.7,107.3 C1211.3,104.4 1213.1,99.4 1214.0,96.5 C1214.9,93.6 1216.3,88.6 1217.2,85.7 C1218.1,82.8 1219.2,76.9 1220.4,74.9 C1221.6,72.9 1224.6,69.8 1225.9,70.5 C1227.2,71.2 1229.1,77.7 1230.2,80.3 C1231.3,82.9 1233.4,87.3 1234.5,90.0 C1235.6,92.7 1238.2,99.4 1238.8,100.8" stroke="#700a8c" stroke-width="4.2" stroke-dasharray="4.4 6.8" stroke-linecap="butt"/>
</g>
<rect x="200.2" y="75.6" width="245.1" height="48.5" fill="#fff" fill-opacity="0.8" stroke="#efefef" stroke-width="1"/>
<text x="209.9" y="106.9" font-size="24.5" textLength="223" lengthAdjust="spacingAndGlyphs" fill="#000">-100.6 ±5.4 Gt yr<tspan dx="0.5" dy="-9.3" font-size="17.1">−1</tspan></text>
<rect x="197.8" y="124.1" width="229.9" height="47.8" fill="#fff" fill-opacity="0.8" stroke="#efefef" stroke-width="1"/>
<text x="207.2" y="153.7" font-size="24.5" textLength="219" lengthAdjust="spacingAndGlyphs" fill="#ee6a3a">-23.4 ±3.4 Gt yr<tspan dx="0.5" dy="-9.3" font-size="17.1">−1</tspan></text>
<rect x="188.5" y="295" width="244.7" height="47.9" fill="#fff" fill-opacity="0.8" stroke="#efefef" stroke-width="1"/>
<text x="199.2" y="325.9" font-size="24.5" textLength="222" lengthAdjust="spacingAndGlyphs" fill="#4a9ef5">-17.18 ±2.8 Gt yr<tspan dx="0.5" dy="-9.3" font-size="17.1">−1</tspan></text>
<rect x="196.5" y="343.5" width="229.2" height="47.4" fill="#fff" fill-opacity="0.8" stroke="#efefef" stroke-width="1"/>
<text x="204.6" y="373.1" font-size="24.5" textLength="209.5" lengthAdjust="spacingAndGlyphs" fill="#7c1a8c">-8.54 ±2.9 Gt yr<tspan dx="0.5" dy="-9.3" font-size="17.1">−1</tspan></text>
<rect x="873" y="48.2" width="264.7" height="48.7" fill="#fff" fill-opacity="0.8" stroke="#efefef" stroke-width="1"/>
<text x="884.9" y="78.5" font-size="24.5" textLength="244" lengthAdjust="spacingAndGlyphs" fill="#7c1a8c">196.37 ±13.6 Gt yr<tspan dx="0.5" dy="-9.3" font-size="17.1">−1</tspan></text>
<rect x="880.5" y="100.1" width="249.7" height="47.6" fill="#fff" fill-opacity="0.8" stroke="#efefef" stroke-width="1"/>
<text x="891.3" y="128.2" font-size="24.5" textLength="230" lengthAdjust="spacingAndGlyphs" fill="#ee6a3a">219.9 ±14.9 Gt yr<tspan dx="0.5" dy="-9.3" font-size="17.1">−1</tspan></text>
<rect x="1028.1" y="279.1" width="263.2" height="50.4" fill="#fff" fill-opacity="0.8" stroke="#efefef" stroke-width="1"/>
<text x="1038.2" y="310.3" font-size="24.5" textLength="242" lengthAdjust="spacingAndGlyphs" fill="#4a9ef5">197.42 ±17.7 Gt yr<tspan dx="0.5" dy="-9.3" font-size="17.1">−1</tspan></text>
<rect x="1041.2" y="384" width="252.2" height="47.4" fill="#fff" fill-opacity="0.8" stroke="#efefef" stroke-width="1"/>
<text x="1051.3" y="414.2" font-size="24.5" textLength="230" lengthAdjust="spacingAndGlyphs" fill="#000">67.53 ±31.4 Gt yr<tspan dx="0.5" dy="-9.3" font-size="17.1">−1</tspan></text>
<rect x="152.6" y="430.6" width="440.8" height="181" rx="4" fill="#fff" fill-opacity="0.8" stroke="#d0d0d0" stroke-width="1.2"/>
<line x1="161.5" y1="449.2" x2="213.6" y2="449.2" stroke="#4a4a4a" stroke-width="4.3"/>
<line x1="162.7" y1="483.8" x2="213" y2="483.8" stroke="#f06432" stroke-width="4.2" stroke-dasharray="4.4 6.8"/>
<line x1="162.7" y1="518.8" x2="213" y2="518.8" stroke="#3c8cf5" stroke-width="4.2" stroke-dasharray="4.4 6.8"/>
<line x1="162.7" y1="554.2" x2="213" y2="554.2" stroke="#700a8c" stroke-width="4.2" stroke-dasharray="4.4 6.8"/>
<line x1="161.5" y1="589.0" x2="213.6" y2="589.0" stroke="#f03a3a" stroke-width="1.6"/>
<text x="231.2" y="458.2" font-size="24" textLength="163" lengthAdjust="spacingAndGlyphs">GMB (GRACE)</text>
<text x="231.2" y="492.8" font-size="24" textLength="142" lengthAdjust="spacingAndGlyphs">SMB (ERA5)</text>
<text x="231.2" y="527.8" font-size="24" textLength="183" lengthAdjust="spacingAndGlyphs">SMB (RACMO2)</text>
<text x="231.2" y="563.2" font-size="24" textLength="156" lengthAdjust="spacingAndGlyphs">SMB (HCLIM)</text>
<text x="231.2" y="598.0" font-size="24" textLength="351" lengthAdjust="spacingAndGlyphs">Discharge (Observed Fluxes)</text>
<rect x="140.6" y="42.3" width="1169.9" height="581.5" fill="none" stroke="#000" stroke-width="1.6"/>
<line x1="274.8" y1="623.8" x2="274.8" y2="631.8" stroke="#000" stroke-width="1.5"/>
<text x="274.8" y="656.5" font-size="25" text-anchor="middle" textLength="54" lengthAdjust="spacingAndGlyphs">2004</text>
<line x1="459.0" y1="623.8" x2="459.0" y2="631.8" stroke="#000" stroke-width="1.5"/>
<text x="459.0" y="656.5" font-size="25" text-anchor="middle" textLength="54" lengthAdjust="spacingAndGlyphs">2008</text>
<line x1="643.2" y1="623.8" x2="643.2" y2="631.8" stroke="#000" stroke-width="1.5"/>
<text x="643.2" y="656.5" font-size="25" text-anchor="middle" textLength="54" lengthAdjust="spacingAndGlyphs">2012</text>
<line x1="827.4" y1="623.8" x2="827.4" y2="631.8" stroke="#000" stroke-width="1.5"/>
<text x="827.4" y="656.5" font-size="25" text-anchor="middle" textLength="54" lengthAdjust="spacingAndGlyphs">2016</text>
<line x1="1011.6" y1="623.8" x2="1011.6" y2="631.8" stroke="#000" stroke-width="1.5"/>
<text x="1011.6" y="656.5" font-size="25" text-anchor="middle" textLength="54" lengthAdjust="spacingAndGlyphs">2020</text>
<line x1="1195.8" y1="623.8" x2="1195.8" y2="631.8" stroke="#000" stroke-width="1.5"/>
<text x="1195.8" y="656.5" font-size="25" text-anchor="middle" textLength="54" lengthAdjust="spacingAndGlyphs">2024</text>
<line x1="132.6" y1="69.4" x2="140.6" y2="69.4" stroke="#000" stroke-width="1.5"/>
<text x="123.2" y="78.4" font-size="25" text-anchor="end" textLength="54" lengthAdjust="spacingAndGlyphs">1000</text>
<line x1="132.6" y1="158.5" x2="140.6" y2="158.5" stroke="#000" stroke-width="1.5"/>
<text x="123.2" y="167.5" font-size="25" text-anchor="end" textLength="41.1" lengthAdjust="spacingAndGlyphs">500</text>
<line x1="132.6" y1="247.7" x2="140.6" y2="247.7" stroke="#000" stroke-width="1.5"/>
<text x="123.2" y="256.7" font-size="25" text-anchor="end" textLength="11.5" lengthAdjust="spacingAndGlyphs">0</text>
<line x1="132.6" y1="336.9" x2="140.6" y2="336.9" stroke="#000" stroke-width="1.5"/>
<text x="123.2" y="345.9" font-size="25" text-anchor="end" textLength="58.2" lengthAdjust="spacingAndGlyphs">−500</text>
<line x1="132.6" y1="426.0" x2="140.6" y2="426.0" stroke="#000" stroke-width="1.5"/>
<text x="123.2" y="435.0" font-size="25" text-anchor="end" textLength="73" lengthAdjust="spacingAndGlyphs">−1000</text>
<line x1="132.6" y1="515.2" x2="140.6" y2="515.2" stroke="#000" stroke-width="1.5"/>
<text x="123.2" y="524.2" font-size="25" text-anchor="end" textLength="73" lengthAdjust="spacingAndGlyphs">−1500</text>
<line x1="132.6" y1="604.4" x2="140.6" y2="604.4" stroke="#000" stroke-width="1.5"/>
<text x="123.2" y="613.4" font-size="25" text-anchor="end" textLength="73" lengthAdjust="spacingAndGlyphs">−2000</text>
<text x="152.1" y="29.4" font-size="30">a)</text>
<text x="416.6" y="29.3" font-size="34" textLength="614.7" lengthAdjust="spacingAndGlyphs">Cumulative Mass Balance Anomalies</text>
<text x="25.6" y="338.8" font-size="30.7" text-anchor="middle" textLength="505.6" lengthAdjust="spacingAndGlyphs" transform="rotate(-90 25.6 338.8)">Cumulative mass balance anomaly (Gt)</text>
<line x1="238.5" y1="792.0" x2="238.5" y2="1141.2" stroke="#d2d2d2" stroke-width="1.3"/>
<line x1="437.5" y1="792.0" x2="437.5" y2="1141.2" stroke="#d2d2d2" stroke-width="1.3"/>
<line x1="637.0" y1="792.0" x2="637.0" y2="1141.2" stroke="#d2d2d2" stroke-width="1.3"/>
<line x1="835.2" y1="792.0" x2="835.2" y2="1141.2" stroke="#d2d2d2" stroke-width="1.3"/>
<line x1="1034.1" y1="792.0" x2="1034.1" y2="1141.2" stroke="#d2d2d2" stroke-width="1.3"/>
<line x1="1232.3" y1="792.0" x2="1232.3" y2="1141.2" stroke="#d2d2d2" stroke-width="1.3"/>
<line x1="140.6" y1="859.9" x2="1310.3" y2="859.9" stroke="#d2d2d2" stroke-width="1.3"/>
<line x1="140.6" y1="953.5" x2="1310.3" y2="953.5" stroke="#d2d2d2" stroke-width="1.3"/>
<line x1="140.6" y1="1049.0" x2="1310.3" y2="1049.0" stroke="#d2d2d2" stroke-width="1.3"/>
<g clip-path="url(#clipB)" fill="none" stroke-linejoin="round" stroke-linecap="round">
<polyline points="191.9,1076.1 197.3,1082.6 200.5,1111.8 203.8,1097.8 210.3,1095.6 217.8,1072.9 222.1,1051.3 228.6,1032.9 237.3,1000.5 242.7,1021.0 245.9,1013.5 254.6,987.5 262.1,999.4 266.5,996.2 275.1,999.4 279.4,1004.8 283.7,998.3 291.3,997.3 296.7,1008.1 301.0,1003.7 308.6,1009.1 312.9,989.7 321.6,997.3 324.8,1023.2 329.1,1036.2 333.4,1031.8 337.8,1036.2 344.3,1020.0 350.7,1026.4 357.2,1049.1 361.5,1061.0 365.9,1061.0 372.3,1092.3 378.8,1101.0 384.2,1122.6 387.5,1124.8 391.8,1094.5 395.0,1090.2 399.4,1074.0 406.9,1079.4 412.3,1094.5 419.9,1095.6 424.2,1065.3 428.5,1052.4 436.1,1053.4 443.7,1035.1 449.1,1041.6 454.5,1027.5 460.0,1019.4 464.3,1016.2 469.7,1002.1 474.0,1009.7 478.4,1007.5 481.6,992.4 487.0,980.5 492.4,992.4 498.9,1019.4 503.2,1016.2 511.9,1019.4 519.4,1002.1 527.0,1010.8 535.6,985.9 544.3,1015.1 548.6,1004.3 552.9,1011.8 559.4,1001.0 567.0,997.8 572.4,999.9 581.0,1009.7 586.4,1022.6 590.8,1015.1 595.1,992.4 600.5,975.1 611.3,970.8 615.6,979.4 622.1,985.9 628.6,989.1 632.9,1001.0 637.2,1031.3 642.6,1035.6 649.1,1034.5 656.7,1008.6 664.2,1022.6 669.6,1014.0 676.1,1011.8 681.5,1022.6 685.8,1004.3 692.3,1031.3 697.7,1033.4 706.4,1016.2 710.7,1027.0 721.5,1035.6 726.9,1049.7 732.3,1046.4 738.8,1022.6 746.5,1003.4 750.8,1001.3 760.5,997.0 767.0,977.5 772.4,949.4 776.7,933.2 786.5,933.2 790.8,927.8 793.0,913.8 800.5,903.0 804.8,910.5 809.2,897.5 814.6,893.2 818.9,898.6 822.1,911.6 825.4,878.1 830.8,878.1 836.2,893.2 843.7,925.6 849.1,949.4 855.6,968.9 863.2,951.6 871.8,964.5 878.3,960.2 884.8,959.1 895.6,976.4 904.3,989.4 912.9,1002.4 920.5,994.8 925.9,1001.3 931.3,991.6 937.8,953.7 942.1,945.1 946.4,947.3 954.0,928.9 958.3,942.9 962.6,944.0 968.0,955.9 973.4,974.3 978.8,971.0 985.3,999.1 995.0,1017.5 1000.0,1013.0 1005.6,1001.8 1009.8,1000.4 1015.4,987.8 1019.6,989.2 1026.6,1006.0 1030.8,1008.8 1034.9,1007.4 1041.9,983.6 1046.1,961.3 1050.3,959.9 1057.3,959.0 1067.1,972.5 1074.1,964.1 1079.7,955.7 1083.9,908.2 1088.1,888.6 1095.1,871.8 1103.4,874.6 1107.6,874.6 1113.2,884.4 1117.4,877.4 1123.0,853.7 1131.4,843.9 1139.8,843.9 1145.4,856.5 1151.0,846.7 1159.4,843.9 1164.9,827.1 1170.5,820.1 1173.3,831.3 1181.7,834.1 1187.3,841.1 1198.5,842.5 1206.9,822.9 1212.5,807.5 1216.7,810.3 1220.9,821.5 1226.4,834.1 1233.4,866.2 1239.0,890.0 1243.2,888.6 1250.2,888.6 1253.0,871.8 1258.6,869.0" stroke="#e6a82e" stroke-opacity="0.85" stroke-width="3.6"/>
<polyline points="191.9,1121.5 197.3,1124.8 200.5,1107.5 208.1,1098.8 213.5,1107.5 217.8,1106.4 222.1,1098.8 229.7,1118.3 234.0,1114.0 238.4,1101.0 242.7,1103.2 247.0,1083.7 252.4,1088.0 255.6,1081.5 260.0,1091.3 263.2,1085.9 267.5,1058.9 271.9,1054.5 276.2,1058.9 281.6,1049.1 285.9,1029.7 291.3,999.4 296.7,995.1 300.0,1003.7 304.3,1005.9 308.6,1012.4 312.9,999.4 317.2,978.9 322.6,974.6 327.0,974.6 335.6,964.8 338.9,957.3 346.4,961.6 350.7,971.3 355.1,971.3 360.5,947.5 363.7,943.2 366.9,949.7 370.2,923.8 374.5,919.5 379.9,927.0 384.2,945.4 387.5,951.9 392.9,973.5 397.2,975.6 401.5,982.1 404.8,980.0 408.0,964.8 412.3,986.4 416.7,1011.3 422.1,1003.7 426.4,998.3 429.6,998.3 434.0,1023.2 437.2,1028.6 441.5,1012.4 444.8,1028.6 449.1,1013.5 461.0,1021.0 469.6,1028.6 473.9,1038.3 479.3,1051.3 482.7,1051.8 487.0,1039.9 491.3,1047.5 498.9,1029.1 503.2,1035.6 507.5,1060.5 515.1,1045.3 523.8,1051.8 528.1,1039.9 533.5,1016.2 537.8,1015.1 545.4,1022.6 552.9,1019.4 556.2,1010.8 563.7,1015.1 570.2,1003.2 574.5,981.6 577.8,979.4 582.1,963.2 586.4,972.9 590.8,948.1 595.1,970.8 602.6,953.5 607.0,937.3 614.5,931.9 619.9,943.8 624.3,944.8 630.7,968.6 636.1,978.3 643.7,965.4 652.3,956.7 661.0,982.7 664.2,968.6 672.9,999.9 677.2,976.2 684.8,990.2 689.1,997.8 693.4,988.1 701.0,1009.7 706.4,1008.6 710.7,996.7 715.0,999.9 723.7,981.6 730.2,942.7 734.5,947.0 739.9,966.4 747.4,984.8 753.9,975.1 760.5,965.6 763.8,997.0 768.1,1005.6 772.4,1008.9 777.8,1020.7 784.3,1022.9 791.9,997.0 798.4,991.6 804.8,985.1 809.2,960.2 813.5,958.1 822.1,955.9 825.4,945.1 830.8,947.3 835.1,931.0 841.6,921.3 847.0,907.3 851.3,915.9 859.9,917.0 867.5,900.8 875.1,911.6 879.4,912.7 883.7,904.0 891.3,938.6 895.6,935.4 899.9,919.2 904.3,927.8 908.6,965.6 912.9,962.4 917.2,953.7 921.5,958.1 925.9,986.2 933.4,989.4 937.8,966.7 942.1,979.7 945.3,964.5 951.8,973.2 958.3,980.8 962.6,979.7 969.1,958.1 977.7,946.2 986.4,933.2 991.8,919.2 996.1,903.0 1000.4,931.5 1005.6,912.4 1011.2,908.2 1016.8,904.0 1023.8,902.6 1029.4,923.5 1034.9,913.8 1041.9,912.4 1046.1,930.5 1051.7,922.1 1057.3,905.4 1064.3,915.2 1072.7,931.9 1082.5,938.9 1089.5,908.2 1093.7,904.0 1099.2,885.8 1104.8,911.0 1111.8,892.8 1121.6,899.8 1132.8,867.6 1145.4,880.2 1152.4,855.1 1156.6,867.6 1164.9,832.7 1169.1,829.9 1174.7,807.5 1184.5,814.5 1192.9,849.5 1198.5,866.2 1202.7,866.2 1208.3,839.7 1215.3,831.3 1219.5,814.5 1227.8,829.9 1233.4,866.2 1239.0,849.5 1244.6,827.1 1248.8,849.5 1253.8,843.9" stroke="#5c5cb8" stroke-opacity="0.8" stroke-width="3.6"/>
</g>
<rect x="152.7" y="804.2" width="508" height="42.1" rx="4" fill="#fff" fill-opacity="0.8" stroke="#d0d0d0" stroke-width="1.2"/>
<line x1="160.8" y1="823.6" x2="213.7" y2="823.6" stroke="#e6a82e" stroke-width="3.6"/>
<text x="230.9" y="832.0" font-size="24" textLength="420" lengthAdjust="spacingAndGlyphs">10m westerlies over ocean (ERA5)</text>
<rect x="956" y="1087.5" width="342.8" height="42.1" rx="4" fill="#fff" fill-opacity="0.8" stroke="#d0d0d0" stroke-width="1.2"/>
<line x1="962.6" y1="1106.9" x2="1017.1" y2="1106.9" stroke="#5c5cb8" stroke-opacity="0.8" stroke-width="3.6"/>
<text x="1034" y="1114.0" font-size="24" textLength="253.3" lengthAdjust="spacingAndGlyphs">AR frequency (ERA5)</text>
<rect x="140.6" y="792.0" width="1169.7" height="349.2" fill="none" stroke="#000" stroke-width="1.6"/>
<line x1="238.5" y1="1141.2" x2="238.5" y2="1149.2" stroke="#000" stroke-width="1.5"/>
<text x="238.5" y="1174.4" font-size="25" text-anchor="middle" textLength="54" lengthAdjust="spacingAndGlyphs">2004</text>
<line x1="437.5" y1="1141.2" x2="437.5" y2="1149.2" stroke="#000" stroke-width="1.5"/>
<text x="437.5" y="1174.4" font-size="25" text-anchor="middle" textLength="54" lengthAdjust="spacingAndGlyphs">2008</text>
<line x1="637.0" y1="1141.2" x2="637.0" y2="1149.2" stroke="#000" stroke-width="1.5"/>
<text x="637.0" y="1174.4" font-size="25" text-anchor="middle" textLength="54" lengthAdjust="spacingAndGlyphs">2012</text>
<line x1="835.2" y1="1141.2" x2="835.2" y2="1149.2" stroke="#000" stroke-width="1.5"/>
<text x="835.2" y="1174.4" font-size="25" text-anchor="middle" textLength="54" lengthAdjust="spacingAndGlyphs">2016</text>
<line x1="1034.1" y1="1141.2" x2="1034.1" y2="1149.2" stroke="#000" stroke-width="1.5"/>
<text x="1034.1" y="1174.4" font-size="25" text-anchor="middle" textLength="54" lengthAdjust="spacingAndGlyphs">2020</text>
<line x1="1232.3" y1="1141.2" x2="1232.3" y2="1149.2" stroke="#000" stroke-width="1.5"/>
<text x="1232.3" y="1174.4" font-size="25" text-anchor="middle" textLength="54" lengthAdjust="spacingAndGlyphs">2024</text>
<line x1="132.6" y1="859.9" x2="140.6" y2="859.9" stroke="#000" stroke-width="1.5"/>
<text x="121.4" y="868.9" font-size="25" text-anchor="end">2.5</text>
<line x1="132.6" y1="953.5" x2="140.6" y2="953.5" stroke="#000" stroke-width="1.5"/>
<text x="121.4" y="962.5" font-size="25" text-anchor="end">2.0</text>
<line x1="132.6" y1="1049.0" x2="140.6" y2="1049.0" stroke="#000" stroke-width="1.5"/>
<text x="121.4" y="1058.0" font-size="25" text-anchor="end">1.5</text>
<line x1="1310.3" y1="795.0" x2="1318.3" y2="795.0" stroke="#000" stroke-width="1.5"/>
<text x="1325.7" y="804.0" font-size="25">9</text>
<line x1="1310.3" y1="874.0" x2="1318.3" y2="874.0" stroke="#000" stroke-width="1.5"/>
<text x="1325.7" y="883.0" font-size="25">8</text>
<line x1="1310.3" y1="953.0" x2="1318.3" y2="953.0" stroke="#000" stroke-width="1.5"/>
<text x="1325.7" y="962.0" font-size="25">7</text>
<line x1="1310.3" y1="1032.0" x2="1318.3" y2="1032.0" stroke="#000" stroke-width="1.5"/>
<text x="1325.7" y="1041.0" font-size="25">6</text>
<line x1="1310.3" y1="1111.0" x2="1318.3" y2="1111.0" stroke="#000" stroke-width="1.5"/>
<text x="1325.7" y="1120.0" font-size="25">5</text>
<text x="152.7" y="785.3" font-size="28">b)</text>
<text x="474.3" y="778.8" font-size="26.7" textLength="501.3" lengthAdjust="spacingAndGlyphs">Atmospheric Rivers and Zonal Winds</text>
<text x="70.3" y="960.3" font-size="30" text-anchor="middle" transform="rotate(-90 70.3 960.3)" textLength="300.8" lengthAdjust="spacingAndGlyphs">Zonal wind speed (m s<tspan dy="-12" font-size="12">-1</tspan><tspan dy="12">)</tspan></text>
<text x="1376.8" y="969.7" font-size="28.7" text-anchor="middle" transform="rotate(-90 1376.8 969.7)" textLength="243.8" lengthAdjust="spacingAndGlyphs">AR frequency (yr<tspan dy="-11" font-size="12">-1</tspan><tspan dy="11">)</tspan></text>
<defs>
<path id="coast" d="M-143.6,-90.8 L-141.9,-83.9 L-140.1,-73.5 L-135.5,-70.0 L-133.2,-63.1 L-129.2,-57.9 L-122.3,-58.5 L-117.6,-59.7 L-110.7,-58.5 L-103.8,-56.8 L-95.7,-53.9 L-89.4,-49.3 L-86.5,-44.7 L-84.2,-37.8 L-81.9,-29.7 L-80.8,-22.8 L-81.3,-18.7 L-77.3,-20.5 L-73.8,-20.5 L-71.0,-15.9 L-68.1,-13.6 L-61.2,-15.9 L-54.2,-19.3 L-47.3,-22.2 L-39.3,-23.4 L-37.5,-22.8 L-39.3,-29.7 L-39.3,-35.5 L-35.8,-40.1 L-34.1,-45.8 L-31.8,-50.4 L-30.6,-53.9 L-33.5,-57.4 L-35.2,-58.5 L-38.1,-55.1 L-41.6,-55.1 L-43.9,-59.7 L-43.9,-64.3 L-42.1,-71.2 L-42.1,-75.2 L-38.1,-79.3 L-33.5,-83.9 L-30.6,-88.5 L-28.3,-94.3 L-28.9,-101.2 L-26.6,-105.8 L-23.7,-110.4 L-23.4,-115.5 L-18.3,-115.5 L-15.7,-118.8 L-11.8,-117.5 L-2.7,-118.1 L2.5,-120.1 L11.6,-122.7 L15.5,-125.3 L19.4,-124.0 L23.2,-118.8 L27.8,-122.7 L33.6,-120.7 L38.8,-120.1 L43.3,-117.5 L45.9,-112.3 L50.5,-111.0 L58.3,-109.1 L68.0,-109.1 L71.2,-111.7 L75.1,-111.7 L77.1,-107.1 L78.4,-100.6 L83.5,-100.6 L90.7,-100.0 L97.2,-97.4 L103.6,-94.8 L110.1,-93.5 L115.3,-93.5 L120.5,-91.6 L123.7,-87.7 L124.4,-83.1 L122.5,-77.9 L121.8,-70.2 L122.5,-65.0 L126.3,-62.4 L127.6,-57.2 L128.3,-50.7 L125.0,-46.8 L119.9,-46.8 L112.7,-44.9 L106.2,-44.2 L103.7,-41.6 L103.7,-37.7 L108.8,-35.8 L115.3,-35.1 L120.5,-34.5 L124.4,-29.3 L130.9,-26.7 L136.1,-23.5 L139.7,-20.9 L141.3,-17.0 L143.9,-7.9 L147.2,-6.2 L150.2,-5.2 L146.7,-3.5 L145.2,2.5 L143.9,12.8 L145.2,23.2 L147.8,31.0 L146.5,36.2 L138.7,40.1 L138.7,51.7 L137.4,62.1 L130.9,64.7 L127.0,69.9 L123.1,72.5 L120.5,80.3 L116.7,88.0 L112.8,95.8 L108.9,103.6 L106.3,110.1 L99.8,107.5 L92.0,112.7 L84.2,117.9 L76.4,117.9 L68.7,119.2 L57.0,120.5 L47.9,119.2 L40.1,116.6 L32.4,116.6 L22.0,115.3 L16.9,114.1 L15.7,107.2 L18.0,101.4 L20.9,98.0 L22.6,93.4 L23.2,84.1 L21.5,77.2 L18.0,72.6 L15.2,69.7 L19.2,64.5 L19.8,57.6 L18.6,53.0 L14.6,47.8 L10.0,41.5 L5.3,36.3 L1.9,34.0 L-2.7,34.6 L-6.8,35.7 L-9.6,33.4 L-11.9,27.7 L-16.0,24.2 L-19.4,24.8 L-21.2,27.7 L-18.9,31.1 L-18.9,34.6 L-21.2,40.3 L-22.9,44.9 L-24.6,50.1 L-28.1,47.2 L-32.7,48.4 L-35.6,51.9 L-34.4,56.5 L-31.5,61.1 L-29.2,64.5 L-29.8,69.1 L-31.0,76.1 L-31.5,73.2 L-36.1,72.0 L-39.6,69.7 L-46.5,70.9 L-51.1,73.8 L-53.4,76.1 L-55.7,73.8 L-62.7,72.6 L-69.6,70.3 L-73.0,66.8 L-77.6,61.1 L-82.3,55.3 L-85.7,50.7 L-89.2,53.0 L-90.3,49.6 L-90.9,44.9 L-93.8,41.5 L-91.5,38.0 L-90.3,33.4 L-92.1,24.2 L-92.6,16.1 L-96.1,16.7 L-99.6,19.6 L-105.3,25.3 L-111.1,24.2 L-107.6,21.9 L-106.5,17.3 L-103.0,13.2 L-106.5,8.1 L-107.0,2.3 L-109.3,-1.7 L-106.5,-8.1 L-102.7,-20.5 L-99.8,-26.2 L-100.9,-34.3 L-102.1,-41.2 L-105.0,-44.7 L-107.9,-43.0 L-105.0,-40.1 L-106.1,-35.5 L-107.3,-32.0 L-110.7,-29.1 L-114.2,-32.0 L-115.9,-36.6 L-121.1,-40.1 L-126.9,-43.5 L-125.7,-45.8 L-121.1,-47.0 L-123.4,-49.3 L-126.9,-52.2 L-133.8,-55.0 L-137.8,-60.8 L-141.3,-68.9 L-144.2,-73.5 L-144.7,-81.6 L-145.3,-88.5 Z M-44.9,-34.1 L-46.0,-33.9 L-47.4,-34.2 L-49.0,-35.2 L-50.7,-36.7 L-52.3,-38.6 L-53.9,-40.9 L-55.2,-43.3 L-56.2,-45.6 L-56.8,-47.8 L-57.0,-49.7 L-56.8,-51.1 L-56.1,-51.9 L-55.0,-52.1 L-53.6,-51.8 L-52.0,-50.8 L-50.3,-49.3 L-48.7,-47.4 L-47.1,-45.1 L-45.8,-42.7 L-44.8,-40.4 L-44.2,-38.2 L-44.0,-36.3 L-44.2,-34.9 Z M-56.0,-32.0 L-51.0,-27.5 L-55.5,-24.5 L-57.0,-28.0 Z M-21.8,65.6 L-21.9,67.3 L-22.4,68.7 L-23.0,69.7 L-23.7,70.0 L-24.4,69.7 L-25.0,68.7 L-25.5,67.3 L-25.6,65.6 L-25.5,63.9 L-25.0,62.5 L-24.4,61.5 L-23.7,61.2 L-23.0,61.5 L-22.4,62.5 L-21.9,63.9 Z M-83.7,60.0 L-83.9,61.6 L-84.5,62.8 L-85.2,63.2 L-86.0,62.8 L-86.5,61.6 L-86.7,60.0 L-86.5,58.4 L-86.0,57.2 L-85.2,56.8 L-84.5,57.2 L-83.9,58.4 Z"/>
<clipPath id="coastclip"><use href="#coast"/></clipPath>
<filter id="blur2" x="-30%" y="-30%" width="160%" height="160%"><feGaussianBlur stdDeviation="2.2"/></filter>
<filter id="blur1" x="-50%" y="-50%" width="200%" height="200%"><feGaussianBlur stdDeviation="1"/></filter>
</defs>
<g transform="translate(260.3,1595.0)">
<use href="#coast" fill="#eceefb"/>
<g clip-path="url(#coastclip)">
<polygon points="-18.5,-116.0 -18.0,-140.0 5.5,-140.0 5.7,-118.1 6.4,-111.7 12.9,-102.6 17.5,-94.2 -6.3,-97.4 -19.0,-111.6" fill="#cacafd" stroke="#cacafd" stroke-width="0.8" stroke-linejoin="round"/>
<polygon points="-45.0,-38.0 -60.0,-60.0 -40.0,-130.0 -18.0,-140.0 -18.5,-116.0 -19.0,-111.6 -6.3,-97.4 17.5,-94.2 23.2,-87.0 32.3,-81.8 40.1,-75.3 45.3,-67.6 50.0,-63.0 49.2,-58.5 46.6,-44.2 47.6,-34.0 50.8,-22.9 51.0,-17.3 45.4,-16.2 32.4,-16.9 19.5,-17.5 9.1,-20.1 2.6,-24.0 -6.5,-25.3 -14.3,-27.9 -19.5,-33.1 -29.8,-35.7 -38.3,-37.0" fill="#cacafd" stroke="#cacafd" stroke-width="0.8" stroke-linejoin="round"/>
<polygon points="-30.0,-110.0 -18.5,-107.5 -11.5,-103.5 -8.4,-98.5 -9.4,-94.4 -13.5,-91.4 -18.5,-88.4 -23.6,-80.3 -28.6,-76.3 -40.0,-80.0 -40.0,-110.0" fill="#cacafd" stroke="#cacafd" stroke-width="0.8" stroke-linejoin="round"/>
<polygon points="5.5,-140.0 75.0,-140.0 71.5,-112.0 71.2,-109.1 70.7,-101.3 71.2,-92.2 66.0,-87.0 63.4,-79.2 60.9,-70.2 55.7,-62.0 50.0,-63.0 45.3,-67.6 40.1,-75.3 32.3,-81.8 23.2,-87.0 17.5,-94.2 12.9,-102.6 6.4,-111.7 5.7,-118.1" fill="#a6a6ff" stroke="#a6a6ff" stroke-width="0.8" stroke-linejoin="round"/>
<polygon points="75.0,-140.0 170.0,-140.0 170.0,-86.0 122.4,-85.7 115.7,-83.3 108.4,-79.6 103.5,-75.9 101.0,-68.6 89.4,-66.3 76.4,-65.0 67.3,-62.4 55.7,-62.0 60.9,-70.2 63.4,-79.2 66.0,-87.0 71.2,-92.2 70.7,-101.3 71.2,-109.1 71.5,-112.0" fill="#cacafd" stroke="#cacafd" stroke-width="0.8" stroke-linejoin="round"/>
<polygon points="84.0,7.0 93.1,6.1 99.8,17.1 104.7,23.3 112.1,31.8 124.3,34.3 136.6,35.5 147.6,36.7 170.0,40.0 150.0,95.0 112.1,93.1 103.5,94.3 93.7,89.4 87.6,79.6 84.0,71.0 81.0,60.0 78.0,53.0 76.0,42.0 75.5,30.0 76.0,24.0 83.0,16.0" fill="#f2c2c6" stroke="#f2c2c6" stroke-width="0.8" stroke-linejoin="round"/>
<polygon points="119.0,-34.5 125.0,-45.0 170.0,-40.0 170.0,40.0 147.6,36.7 136.6,35.5 124.3,34.3 112.1,31.8 104.7,23.3 99.8,17.1 93.1,6.1 99.8,-4.9 113.3,-19.6" fill="#f2c2c6" stroke="#f2c2c6" stroke-width="0.8" stroke-linejoin="round"/>
<polygon points="18.0,101.4 38.6,100.4 41.0,98.0 44.7,105.3 47.2,115.1 46.0,125.0 10.0,140.0 10.0,105.0" fill="#f7e5e6" stroke="#f7e5e6" stroke-width="0.8" stroke-linejoin="round"/>
<polygon points="38.6,100.4 50.8,87.0 63.1,74.0 75.3,68.6 82.7,67.4 84.0,71.0 87.6,79.6 93.7,89.4 103.5,94.3 112.1,93.1 130.0,100.0 80.0,140.0 46.0,125.0 47.2,115.1 44.7,105.3 41.0,98.0" fill="#f7e5e6" stroke="#f7e5e6" stroke-width="0.8" stroke-linejoin="round"/>
<polygon points="-60.4,8.1 -51.9,11.0 -42.8,11.0 -37.0,9.0 -32.0,14.0 -27.0,22.0 -21.0,30.0 -12.0,34.0 -10.0,38.0 -22.0,50.0 -29.8,47.3 -37.6,38.3 -48.0,31.8 -58.4,26.6 -65.0,19.6" fill="#a2a2ff" stroke="#a2a2ff" stroke-width="0.8" stroke-linejoin="round"/>
<polygon points="-100.1,0.0 -96.1,-4.6 -90.3,-2.3 -85.7,2.3 -77.6,2.3 -73.0,-1.2 -65.0,3.4 -60.4,8.1 -65.0,19.6 -66.1,28.8 -69.6,38.0 -71.9,44.9 -82.3,41.5 -90.3,40.3 -95.0,40.0 -104.0,24.0 -101.3,12.7 -101.0,5.0" fill="#ff1c1c" stroke="#ff1c1c" stroke-width="0.8" stroke-linejoin="round"/>
<polygon points="-95.0,40.0 -90.3,40.3 -82.3,41.5 -71.9,44.9 -69.6,51.9 -62.7,58.8 -55.7,64.5 -46.5,61.1 -39.6,63.4 -37.3,70.3 -33.0,80.0 -60.0,90.0 -100.0,60.0" fill="#f05a62" stroke="#f05a62" stroke-width="0.8" stroke-linejoin="round"/>
<polygon points="-121.9,-47.3 -170.0,-30.0 -170.0,-130.0 -90.0,-130.0 -100.0,-62.0 -109.8,-54.3 -113.8,-53.3 -117.8,-50.3" fill="#f6dede" stroke="#f6dede" stroke-width="0.8" stroke-linejoin="round"/>
<polygon points="-121.9,-47.3 -117.8,-50.3 -113.8,-53.3 -109.8,-54.3 -100.0,-62.0 -93.6,-45.3 -95.6,-26.1 -96.6,-16.0 -97.7,-14.0 -101.7,-16.0 -105.7,-18.0 -130.0,-20.0 -140.0,-40.0" fill="#f6dede" stroke="#f6dede" stroke-width="0.8" stroke-linejoin="round"/>
<polygon points="-130.0,-20.0 -105.7,-18.0 -101.7,-16.0 -97.7,-14.0 -97.7,-5.9 -100.1,0.0 -101.0,5.0 -101.3,12.7 -104.0,24.0 -130.0,30.0" fill="#f6dede" stroke="#f6dede" stroke-width="0.8" stroke-linejoin="round"/>
</g>
<polygon points="-124,-44 -115.6,-44.6 -108.5,-43.6 -107,-38.5 -108.5,-33.5 -110.8,-31 -114,-32.5 -116,-37 -121,-40.5" fill="#fdfdfd" fill-opacity="0.85"/>
<circle cx="-1.5" cy="0.5" r="9" fill="#fff" fill-opacity="0.95" filter="url(#blur1)"/>
<g fill="none" stroke="#999999" stroke-opacity="0.6" stroke-width="1.1" stroke-dasharray="3.5,2.3">
<line x1="-0.0" y1="-192.0" x2="0.0" y2="192.0"/>
<line x1="-166.3" y1="-96.0" x2="166.3" y2="96.0"/>
<line x1="-166.3" y1="96.0" x2="166.3" y2="-96.0"/>
<circle cx="0" cy="0" r="93.4"/>
</g>
<use href="#coast" fill="none" stroke="#1e1e1e" stroke-width="1.15" stroke-linejoin="round"/>
<g filter="url(#blur2)"><g clip-path="url(#coastclip)"><polygon points="119.0,-34.5 125.0,-45.0 170.0,-40.0 170.0,40.0 147.6,36.7 136.6,35.5 124.3,34.3 112.1,31.8 104.7,23.3 99.8,17.1 93.1,6.1 99.8,-4.9 113.3,-19.6" fill="#7e7e7e"/></g></g>
</g>
<g transform="translate(666.8,1595.0)">
<use href="#coast" fill="#eceefb"/>
<g clip-path="url(#coastclip)">
<polygon points="5.5,-140.0 75.0,-140.0 71.5,-112.0 71.2,-109.1 70.7,-101.3 71.2,-92.2 66.0,-87.0 63.4,-79.2 60.9,-70.2 55.7,-62.0 50.0,-63.0 45.3,-67.6 40.1,-75.3 32.3,-81.8 23.2,-87.0 17.5,-94.2 12.9,-102.6 6.4,-111.7 5.7,-118.1" fill="#cacafd" stroke="#cacafd" stroke-width="0.8" stroke-linejoin="round"/>
<polygon points="75.0,-140.0 170.0,-140.0 170.0,-86.0 122.4,-85.7 115.7,-83.3 108.4,-79.6 103.5,-75.9 101.0,-68.6 89.4,-66.3 76.4,-65.0 67.3,-62.4 55.7,-62.0 60.9,-70.2 63.4,-79.2 66.0,-87.0 71.2,-92.2 70.7,-101.3 71.2,-109.1 71.5,-112.0" fill="#cacafd" stroke="#cacafd" stroke-width="0.8" stroke-linejoin="round"/>
<polygon points="49.2,-58.5 55.7,-62.0 67.3,-62.4 76.4,-65.0 89.4,-66.3 101.0,-68.6 101.0,-65.1 104.7,-58.8 113.3,-56.3 121.9,-52.7 128.3,-50.7 170.0,-52.0 170.0,-41.0 125.0,-41.0 110.0,-41.0 103.7,-41.2 97.4,-39.2 92.5,-30.6 88.8,-18.4 87.6,-7.3 85.1,2.4 76.5,4.9 66.7,1.2 61.8,-4.9 59.4,-12.2 53.3,-17.1 51.0,-17.3 50.8,-22.9 47.6,-34.0 46.6,-44.2" fill="#f7e5e6" stroke="#f7e5e6" stroke-width="0.8" stroke-linejoin="round"/>
<polygon points="119.0,-34.5 125.0,-45.0 170.0,-40.0 170.0,40.0 147.6,36.7 136.6,35.5 124.3,34.3 112.1,31.8 104.7,23.3 99.8,17.1 93.1,6.1 99.8,-4.9 113.3,-19.6" fill="#f2c2c6" stroke="#f2c2c6" stroke-width="0.8" stroke-linejoin="round"/>
<polygon points="84.0,7.0 93.1,6.1 99.8,17.1 104.7,23.3 112.1,31.8 124.3,34.3 136.6,35.5 147.6,36.7 170.0,40.0 150.0,95.0 112.1,93.1 103.5,94.3 93.7,89.4 87.6,79.6 84.0,71.0 81.0,60.0 78.0,53.0 76.0,42.0 75.5,30.0 76.0,24.0 83.0,16.0" fill="#f2c2c6" stroke="#f2c2c6" stroke-width="0.8" stroke-linejoin="round"/>
<polygon points="-38.3,-37.0 -29.8,-35.7 -19.5,-33.1 -14.3,-27.9 -6.5,-25.3 2.6,-24.0 9.1,-20.1 19.5,-17.5 32.4,-16.9 44.0,-15.8 38.9,-9.0 27.2,0.6 13.0,5.8 0.0,9.7 -11.7,5.8 -27.2,7.1 -36.5,9.0 -35.7,-8.4 -36.3,-17.5 -38.3,-23.9 -45.0,-30.0" fill="#f7e5e6" stroke="#f7e5e6" stroke-width="0.8" stroke-linejoin="round"/>
<polygon points="-38.3,-23.9 -36.3,-17.5 -35.7,-8.4 -36.5,9.0 -42.8,11.0 -51.9,11.0 -60.4,8.1 -65.0,3.4 -73.0,-1.2 -77.6,2.3 -85.7,2.3 -90.3,-2.3 -96.1,-4.6 -97.7,-5.9 -96.6,-16.0 -95.6,-26.1 -93.6,-45.3 -80.0,-55.0 -60.0,-45.0 -45.0,-30.0" fill="#f7e5e6" stroke="#f7e5e6" stroke-width="0.8" stroke-linejoin="round"/>
<polygon points="-100.1,0.0 -96.1,-4.6 -90.3,-2.3 -85.7,2.3 -77.6,2.3 -73.0,-1.2 -65.0,3.4 -60.4,8.1 -65.0,19.6 -66.1,28.8 -69.6,38.0 -71.9,44.9 -82.3,41.5 -90.3,40.3 -95.0,40.0 -104.0,24.0 -101.3,12.7 -101.0,5.0" fill="#f7e5e6" stroke="#f7e5e6" stroke-width="0.8" stroke-linejoin="round"/>
<polygon points="-95.0,40.0 -90.3,40.3 -82.3,41.5 -71.9,44.9 -69.6,51.9 -62.7,58.8 -55.7,64.5 -46.5,61.1 -39.6,63.4 -37.3,70.3 -33.0,80.0 -60.0,90.0 -100.0,60.0" fill="#f7e5e6" stroke="#f7e5e6" stroke-width="0.8" stroke-linejoin="round"/>
<polygon points="-66.1,28.8 -65.0,19.6 -58.4,26.6 -48.0,31.8 -37.6,38.3 -29.8,47.3 -25.0,52.0 -25.0,72.0 -37.3,70.3 -39.6,63.4 -46.5,61.1 -55.7,64.5 -62.7,58.8 -69.6,51.9 -71.9,44.9 -69.6,38.0" fill="#f7e5e6" stroke="#f7e5e6" stroke-width="0.8" stroke-linejoin="round"/>
<polygon points="-121.9,-47.3 -117.8,-50.3 -113.8,-53.3 -109.8,-54.3 -100.0,-62.0 -93.6,-45.3 -95.6,-26.1 -96.6,-16.0 -97.7,-14.0 -101.7,-16.0 -105.7,-18.0 -130.0,-20.0 -140.0,-40.0" fill="#f7e5e6" stroke="#f7e5e6" stroke-width="0.8" stroke-linejoin="round"/>
<polygon points="-130.0,-20.0 -105.7,-18.0 -101.7,-16.0 -97.7,-14.0 -97.7,-5.9 -100.1,0.0 -101.0,5.0 -101.3,12.7 -104.0,24.0 -130.0,30.0" fill="#f7e5e6" stroke="#f7e5e6" stroke-width="0.8" stroke-linejoin="round"/>
</g>
<polygon points="-124,-44 -115.6,-44.6 -108.5,-43.6 -107,-38.5 -108.5,-33.5 -110.8,-31 -114,-32.5 -116,-37 -121,-40.5" fill="#fdfdfd" fill-opacity="0.85"/>
<circle cx="-1.5" cy="0.5" r="9" fill="#fff" fill-opacity="0.95" filter="url(#blur1)"/>
<g fill="none" stroke="#999999" stroke-opacity="0.6" stroke-width="1.1" stroke-dasharray="3.5,2.3">
<line x1="-0.0" y1="-192.0" x2="0.0" y2="192.0"/>
<line x1="-166.3" y1="-96.0" x2="166.3" y2="96.0"/>
<line x1="-166.3" y1="96.0" x2="166.3" y2="-96.0"/>
<circle cx="0" cy="0" r="93.4"/>
</g>
<use href="#coast" fill="none" stroke="#1e1e1e" stroke-width="1.15" stroke-linejoin="round"/>
<g filter="url(#blur2)"><g clip-path="url(#coastclip)"><polygon points="17.8,94.3 25.1,95.5 33.7,94.3 41.0,98.0 44.7,105.3 47.2,115.1 45.9,121.2 33.7,122.0 23.9,120.0 14.0,115.1 14.0,107.8" fill="#7e7e7e"/></g></g>
</g>
<g transform="translate(1091.8,1595.0)">
<use href="#coast" fill="#eceefb"/>
<g clip-path="url(#coastclip)">
<polygon points="119.0,-34.5 125.0,-45.0 170.0,-40.0 170.0,40.0 147.6,36.7 136.6,35.5 124.3,34.3 112.1,31.8 104.7,23.3 99.8,17.1 93.1,6.1 99.8,-4.9 113.3,-19.6" fill="#f7e5e6" stroke="#f7e5e6" stroke-width="0.8" stroke-linejoin="round"/>
<polygon points="84.0,7.0 93.1,6.1 99.8,17.1 104.7,23.3 112.1,31.8 124.3,34.3 136.6,35.5 147.6,36.7 170.0,40.0 150.0,95.0 112.1,93.1 103.5,94.3 93.7,89.4 87.6,79.6 84.0,71.0 81.0,60.0 78.0,53.0 76.0,42.0 75.5,30.0 76.0,24.0 83.0,16.0" fill="#f7e5e6" stroke="#f7e5e6" stroke-width="0.8" stroke-linejoin="round"/>
<polygon points="-38.3,-37.0 -29.8,-35.7 -19.5,-33.1 -14.3,-27.9 -6.5,-25.3 2.6,-24.0 9.1,-20.1 19.5,-17.5 32.4,-16.9 44.0,-15.8 38.9,-9.0 27.2,0.6 13.0,5.8 0.0,9.7 -11.7,5.8 -27.2,7.1 -36.5,9.0 -35.7,-8.4 -36.3,-17.5 -38.3,-23.9 -45.0,-30.0" fill="#f7e5e6" stroke="#f7e5e6" stroke-width="0.8" stroke-linejoin="round"/>
<polygon points="-38.3,-23.9 -36.3,-17.5 -35.7,-8.4 -36.5,9.0 -42.8,11.0 -51.9,11.0 -60.4,8.1 -65.0,3.4 -73.0,-1.2 -77.6,2.3 -85.7,2.3 -90.3,-2.3 -96.1,-4.6 -97.7,-5.9 -96.6,-16.0 -95.6,-26.1 -93.6,-45.3 -80.0,-55.0 -60.0,-45.0 -45.0,-30.0" fill="#f7e5e6" stroke="#f7e5e6" stroke-width="0.8" stroke-linejoin="round"/>
<polygon points="-121.9,-47.3 -170.0,-30.0 -170.0,-130.0 -90.0,-130.0 -100.0,-62.0 -109.8,-54.3 -113.8,-53.3 -117.8,-50.3" fill="#f7e5e6" stroke="#f7e5e6" stroke-width="0.8" stroke-linejoin="round"/>
<polygon points="-121.9,-47.3 -117.8,-50.3 -113.8,-53.3 -109.8,-54.3 -100.0,-62.0 -93.6,-45.3 -95.6,-26.1 -96.6,-16.0 -97.7,-14.0 -101.7,-16.0 -105.7,-18.0 -130.0,-20.0 -140.0,-40.0" fill="#f7e5e6" stroke="#f7e5e6" stroke-width="0.8" stroke-linejoin="round"/>
<polygon points="-130.0,-20.0 -105.7,-18.0 -101.7,-16.0 -97.7,-14.0 -97.7,-5.9 -100.1,0.0 -101.0,5.0 -101.3,12.7 -104.0,24.0 -130.0,30.0" fill="#f7e5e6" stroke="#f7e5e6" stroke-width="0.8" stroke-linejoin="round"/>
<polygon points="-100.1,0.0 -96.1,-4.6 -90.3,-2.3 -85.7,2.3 -77.6,2.3 -73.0,-1.2 -65.0,3.4 -60.4,8.1 -65.0,19.6 -66.1,28.8 -69.6,38.0 -71.9,44.9 -82.3,41.5 -90.3,40.3 -95.0,40.0 -104.0,24.0 -101.3,12.7 -101.0,5.0" fill="#ee9aa0" stroke="#ee9aa0" stroke-width="0.8" stroke-linejoin="round"/>
<polygon points="-95.0,40.0 -90.3,40.3 -82.3,41.5 -71.9,44.9 -69.6,51.9 -62.7,58.8 -55.7,64.5 -46.5,61.1 -39.6,63.4 -37.3,70.3 -33.0,80.0 -60.0,90.0 -100.0,60.0" fill="#f7e5e6" stroke="#f7e5e6" stroke-width="0.8" stroke-linejoin="round"/>
</g>
<polygon points="-124,-44 -115.6,-44.6 -108.5,-43.6 -107,-38.5 -108.5,-33.5 -110.8,-31 -114,-32.5 -116,-37 -121,-40.5" fill="#fdfdfd" fill-opacity="0.85"/>
<circle cx="-1.5" cy="0.5" r="9" fill="#fff" fill-opacity="0.95" filter="url(#blur1)"/>
<g fill="none" stroke="#999999" stroke-opacity="0.6" stroke-width="1.1" stroke-dasharray="3.5,2.3">
<line x1="-0.0" y1="-192.0" x2="0.0" y2="192.0"/>
<line x1="-166.3" y1="-96.0" x2="166.3" y2="96.0"/>
<line x1="-166.3" y1="96.0" x2="166.3" y2="-96.0"/>
<circle cx="0" cy="0" r="93.4"/>
</g>
<use href="#coast" fill="none" stroke="#1e1e1e" stroke-width="1.15" stroke-linejoin="round"/>
</g>
<g transform="translate(260.3,2246.6)">
<use href="#coast" fill="#eceefb"/>
<g clip-path="url(#coastclip)">
<polygon points="-18.5,-116.0 -18.0,-140.0 5.5,-140.0 5.7,-118.1 6.4,-111.7 12.9,-102.6 17.5,-94.2 -6.3,-97.4 -19.0,-111.6" fill="#cacafd" stroke="#cacafd" stroke-width="0.8" stroke-linejoin="round"/>
<polygon points="-45.0,-38.0 -60.0,-60.0 -40.0,-130.0 -18.0,-140.0 -18.5,-116.0 -19.0,-111.6 -6.3,-97.4 17.5,-94.2 23.2,-87.0 32.3,-81.8 40.1,-75.3 45.3,-67.6 50.0,-63.0 49.2,-58.5 46.6,-44.2 47.6,-34.0 50.8,-22.9 51.0,-17.3 45.4,-16.2 32.4,-16.9 19.5,-17.5 9.1,-20.1 2.6,-24.0 -6.5,-25.3 -14.3,-27.9 -19.5,-33.1 -29.8,-35.7 -38.3,-37.0" fill="#a6a6ff" stroke="#a6a6ff" stroke-width="0.8" stroke-linejoin="round"/>
<polygon points="-30.0,-110.0 -18.5,-107.5 -11.5,-103.5 -8.4,-98.5 -9.4,-94.4 -13.5,-91.4 -18.5,-88.4 -23.6,-80.3 -28.6,-76.3 -40.0,-80.0 -40.0,-110.0" fill="#a6a6ff" stroke="#a6a6ff" stroke-width="0.8" stroke-linejoin="round"/>
<polygon points="5.5,-140.0 75.0,-140.0 71.5,-112.0 71.2,-109.1 70.7,-101.3 71.2,-92.2 66.0,-87.0 63.4,-79.2 60.9,-70.2 55.7,-62.0 50.0,-63.0 45.3,-67.6 40.1,-75.3 32.3,-81.8 23.2,-87.0 17.5,-94.2 12.9,-102.6 6.4,-111.7 5.7,-118.1" fill="#a6a6ff" stroke="#a6a6ff" stroke-width="0.8" stroke-linejoin="round"/>
<polygon points="75.0,-140.0 170.0,-140.0 170.0,-86.0 122.4,-85.7 115.7,-83.3 108.4,-79.6 103.5,-75.9 101.0,-68.6 89.4,-66.3 76.4,-65.0 67.3,-62.4 55.7,-62.0 60.9,-70.2 63.4,-79.2 66.0,-87.0 71.2,-92.2 70.7,-101.3 71.2,-109.1 71.5,-112.0" fill="#a6a6ff" stroke="#a6a6ff" stroke-width="0.8" stroke-linejoin="round"/>
<polygon points="119.0,-34.5 125.0,-45.0 170.0,-40.0 170.0,40.0 147.6,36.7 136.6,35.5 124.3,34.3 112.1,31.8 104.7,23.3 99.8,17.1 93.1,6.1 99.8,-4.9 113.3,-19.6" fill="#1400fa" stroke="#1400fa" stroke-width="0.8" stroke-linejoin="round"/>
<polygon points="84.0,7.0 93.1,6.1 99.8,17.1 104.7,23.3 112.1,31.8 124.3,34.3 136.6,35.5 147.6,36.7 170.0,40.0 150.0,95.0 112.1,93.1 103.5,94.3 93.7,89.4 87.6,79.6 84.0,71.0 81.0,60.0 78.0,53.0 76.0,42.0 75.5,30.0 76.0,24.0 83.0,16.0" fill="#cacafd" stroke="#cacafd" stroke-width="0.8" stroke-linejoin="round"/>
<polygon points="18.0,101.4 38.6,100.4 41.0,98.0 44.7,105.3 47.2,115.1 46.0,125.0 10.0,140.0 10.0,105.0" fill="#cacafd" stroke="#cacafd" stroke-width="0.8" stroke-linejoin="round"/>
<polygon points="38.6,100.4 50.8,87.0 63.1,74.0 75.3,68.6 82.7,67.4 84.0,71.0 87.6,79.6 93.7,89.4 103.5,94.3 112.1,93.1 130.0,100.0 80.0,140.0 46.0,125.0 47.2,115.1 44.7,105.3 41.0,98.0" fill="#cacafd" stroke="#cacafd" stroke-width="0.8" stroke-linejoin="round"/>
<polygon points="-38.3,-37.0 -29.8,-35.7 -19.5,-33.1 -14.3,-27.9 -6.5,-25.3 2.6,-24.0 9.1,-20.1 19.5,-17.5 32.4,-16.9 44.0,-15.8 38.9,-9.0 27.2,0.6 13.0,5.8 0.0,9.7 -11.7,5.8 -27.2,7.1 -36.5,9.0 -35.7,-8.4 -36.3,-17.5 -38.3,-23.9 -45.0,-30.0" fill="#cacafd" stroke="#cacafd" stroke-width="0.8" stroke-linejoin="round"/>
<polygon points="-38.3,-23.9 -36.3,-17.5 -35.7,-8.4 -36.5,9.0 -42.8,11.0 -51.9,11.0 -60.4,8.1 -65.0,3.4 -73.0,-1.2 -77.6,2.3 -85.7,2.3 -90.3,-2.3 -96.1,-4.6 -97.7,-5.9 -96.6,-16.0 -95.6,-26.1 -93.6,-45.3 -80.0,-55.0 -60.0,-45.0 -45.0,-30.0" fill="#8282ff" stroke="#8282ff" stroke-width="0.8" stroke-linejoin="round"/>
<polygon points="-60.4,8.1 -51.9,11.0 -42.8,11.0 -37.0,9.0 -32.0,14.0 -27.0,22.0 -21.0,30.0 -12.0,34.0 -10.0,38.0 -22.0,50.0 -29.8,47.3 -37.6,38.3 -48.0,31.8 -58.4,26.6 -65.0,19.6" fill="#cacafd" stroke="#cacafd" stroke-width="0.8" stroke-linejoin="round"/>
<polygon points="-66.1,28.8 -65.0,19.6 -58.4,26.6 -48.0,31.8 -37.6,38.3 -29.8,47.3 -25.0,52.0 -25.0,72.0 -37.3,70.3 -39.6,63.4 -46.5,61.1 -55.7,64.5 -62.7,58.8 -69.6,51.9 -71.9,44.9 -69.6,38.0" fill="#f7e5e6" stroke="#f7e5e6" stroke-width="0.8" stroke-linejoin="round"/>
<polygon points="-100.1,0.0 -96.1,-4.6 -90.3,-2.3 -85.7,2.3 -77.6,2.3 -73.0,-1.2 -65.0,3.4 -60.4,8.1 -65.0,19.6 -66.1,28.8 -69.6,38.0 -71.9,44.9 -82.3,41.5 -90.3,40.3 -95.0,40.0 -104.0,24.0 -101.3,12.7 -101.0,5.0" fill="#ff1c1c" stroke="#ff1c1c" stroke-width="0.8" stroke-linejoin="round"/>
<polygon points="-95.0,40.0 -90.3,40.3 -82.3,41.5 -71.9,44.9 -69.6,51.9 -62.7,58.8 -55.7,64.5 -46.5,61.1 -39.6,63.4 -37.3,70.3 -33.0,80.0 -60.0,90.0 -100.0,60.0" fill="#f83c3c" stroke="#f83c3c" stroke-width="0.8" stroke-linejoin="round"/>
<polygon points="-121.9,-47.3 -170.0,-30.0 -170.0,-130.0 -90.0,-130.0 -100.0,-62.0 -109.8,-54.3 -113.8,-53.3 -117.8,-50.3" fill="#cacafd" stroke="#cacafd" stroke-width="0.8" stroke-linejoin="round"/>
<polygon points="-130.0,-20.0 -105.7,-18.0 -101.7,-16.0 -97.7,-14.0 -97.7,-5.9 -100.1,0.0 -101.0,5.0 -101.3,12.7 -104.0,24.0 -130.0,30.0" fill="#f7e5e6" stroke="#f7e5e6" stroke-width="0.8" stroke-linejoin="round"/>
</g>
<polygon points="-124,-44 -115.6,-44.6 -108.5,-43.6 -107,-38.5 -108.5,-33.5 -110.8,-31 -114,-32.5 -116,-37 -121,-40.5" fill="#fdfdfd" fill-opacity="0.85"/>
<circle cx="-1.5" cy="0.5" r="9" fill="#fff" fill-opacity="0.95" filter="url(#blur1)"/>
<g fill="none" stroke="#999999" stroke-opacity="0.6" stroke-width="1.1" stroke-dasharray="3.5,2.3">
<line x1="-0.0" y1="-192.0" x2="0.0" y2="192.0"/>
<line x1="-166.3" y1="-96.0" x2="166.3" y2="96.0"/>
<line x1="-166.3" y1="96.0" x2="166.3" y2="-96.0"/>
<circle cx="0" cy="0" r="93.4"/>
</g>
<use href="#coast" fill="none" stroke="#1e1e1e" stroke-width="1.15" stroke-linejoin="round"/>
<g filter="url(#blur2)"><g clip-path="url(#coastclip)"><polygon points="17.8,94.3 25.1,95.5 33.7,94.3 41.0,98.0 44.7,105.3 47.2,115.1 45.9,121.2 33.7,122.0 23.9,120.0 14.0,115.1 14.0,107.8" fill="#7e7e7e"/></g></g>
</g>
<g transform="translate(666.8,2246.6)">
<use href="#coast" fill="#eceefb"/>
<g clip-path="url(#coastclip)">
<polygon points="-18.5,-116.0 -18.0,-140.0 5.5,-140.0 5.7,-118.1 6.4,-111.7 12.9,-102.6 17.5,-94.2 -6.3,-97.4 -19.0,-111.6" fill="#cacafd" stroke="#cacafd" stroke-width="0.8" stroke-linejoin="round"/>
<polygon points="-45.0,-38.0 -60.0,-60.0 -40.0,-130.0 -18.0,-140.0 -18.5,-116.0 -19.0,-111.6 -6.3,-97.4 17.5,-94.2 23.2,-87.0 32.3,-81.8 40.1,-75.3 45.3,-67.6 50.0,-63.0 49.2,-58.5 46.6,-44.2 47.6,-34.0 50.8,-22.9 51.0,-17.3 45.4,-16.2 32.4,-16.9 19.5,-17.5 9.1,-20.1 2.6,-24.0 -6.5,-25.3 -14.3,-27.9 -19.5,-33.1 -29.8,-35.7 -38.3,-37.0" fill="#cacafd" stroke="#cacafd" stroke-width="0.8" stroke-linejoin="round"/>
<polygon points="-30.0,-110.0 -18.5,-107.5 -11.5,-103.5 -8.4,-98.5 -9.4,-94.4 -13.5,-91.4 -18.5,-88.4 -23.6,-80.3 -28.6,-76.3 -40.0,-80.0 -40.0,-110.0" fill="#cacafd" stroke="#cacafd" stroke-width="0.8" stroke-linejoin="round"/>
<polygon points="5.5,-140.0 75.0,-140.0 71.5,-112.0 71.2,-109.1 70.7,-101.3 71.2,-92.2 66.0,-87.0 63.4,-79.2 60.9,-70.2 55.7,-62.0 50.0,-63.0 45.3,-67.6 40.1,-75.3 32.3,-81.8 23.2,-87.0 17.5,-94.2 12.9,-102.6 6.4,-111.7 5.7,-118.1" fill="#cacafd" stroke="#cacafd" stroke-width="0.8" stroke-linejoin="round"/>
<polygon points="75.0,-140.0 170.0,-140.0 170.0,-86.0 122.4,-85.7 115.7,-83.3 108.4,-79.6 103.5,-75.9 101.0,-68.6 89.4,-66.3 76.4,-65.0 67.3,-62.4 55.7,-62.0 60.9,-70.2 63.4,-79.2 66.0,-87.0 71.2,-92.2 70.7,-101.3 71.2,-109.1 71.5,-112.0" fill="#cacafd" stroke="#cacafd" stroke-width="0.8" stroke-linejoin="round"/>
<polygon points="119.0,-34.5 125.0,-45.0 170.0,-40.0 170.0,40.0 147.6,36.7 136.6,35.5 124.3,34.3 112.1,31.8 104.7,23.3 99.8,17.1 93.1,6.1 99.8,-4.9 113.3,-19.6" fill="#a6a6ff" stroke="#a6a6ff" stroke-width="0.8" stroke-linejoin="round"/>
<polygon points="84.0,7.0 93.1,6.1 99.8,17.1 104.7,23.3 112.1,31.8 124.3,34.3 136.6,35.5 147.6,36.7 170.0,40.0 150.0,95.0 112.1,93.1 103.5,94.3 93.7,89.4 87.6,79.6 84.0,71.0 81.0,60.0 78.0,53.0 76.0,42.0 75.5,30.0 76.0,24.0 83.0,16.0" fill="#a6a6ff" stroke="#a6a6ff" stroke-width="0.8" stroke-linejoin="round"/>
<polygon points="38.6,100.4 50.8,87.0 63.1,74.0 75.3,68.6 82.7,67.4 84.0,71.0 87.6,79.6 93.7,89.4 103.5,94.3 112.1,93.1 130.0,100.0 80.0,140.0 46.0,125.0 47.2,115.1 44.7,105.3 41.0,98.0" fill="#cacafd" stroke="#cacafd" stroke-width="0.8" stroke-linejoin="round"/>
<polygon points="-38.3,-23.9 -36.3,-17.5 -35.7,-8.4 -36.5,9.0 -42.8,11.0 -51.9,11.0 -60.4,8.1 -65.0,3.4 -73.0,-1.2 -77.6,2.3 -85.7,2.3 -90.3,-2.3 -96.1,-4.6 -97.7,-5.9 -96.6,-16.0 -95.6,-26.1 -93.6,-45.3 -80.0,-55.0 -60.0,-45.0 -45.0,-30.0" fill="#a6a6ff" stroke="#a6a6ff" stroke-width="0.8" stroke-linejoin="round"/>
<polygon points="-121.9,-47.3 -170.0,-30.0 -170.0,-130.0 -90.0,-130.0 -100.0,-62.0 -109.8,-54.3 -113.8,-53.3 -117.8,-50.3" fill="#a6a6ff" stroke="#a6a6ff" stroke-width="0.8" stroke-linejoin="round"/>
<polygon points="-121.9,-47.3 -117.8,-50.3 -113.8,-53.3 -109.8,-54.3 -100.0,-62.0 -93.6,-45.3 -95.6,-26.1 -96.6,-16.0 -97.7,-14.0 -101.7,-16.0 -105.7,-18.0 -130.0,-20.0 -140.0,-40.0" fill="#a6a6ff" stroke="#a6a6ff" stroke-width="0.8" stroke-linejoin="round"/>
<polygon points="-130.0,-20.0 -105.7,-18.0 -101.7,-16.0 -97.7,-14.0 -97.7,-5.9 -100.1,0.0 -101.0,5.0 -101.3,12.7 -104.0,24.0 -130.0,30.0" fill="#a6a6ff" stroke="#a6a6ff" stroke-width="0.8" stroke-linejoin="round"/>
<polygon points="-60.4,8.1 -51.9,11.0 -42.8,11.0 -37.0,9.0 -32.0,14.0 -27.0,22.0 -21.0,30.0 -12.0,34.0 -10.0,38.0 -22.0,50.0 -29.8,47.3 -37.6,38.3 -48.0,31.8 -58.4,26.6 -65.0,19.6" fill="#f7e5e6" stroke="#f7e5e6" stroke-width="0.8" stroke-linejoin="round"/>
</g>
<polygon points="-124,-44 -115.6,-44.6 -108.5,-43.6 -107,-38.5 -108.5,-33.5 -110.8,-31 -114,-32.5 -116,-37 -121,-40.5" fill="#fdfdfd" fill-opacity="0.85"/>
<circle cx="-1.5" cy="0.5" r="9" fill="#fff" fill-opacity="0.95" filter="url(#blur1)"/>
<g fill="none" stroke="#999999" stroke-opacity="0.6" stroke-width="1.1" stroke-dasharray="3.5,2.3">
<line x1="-0.0" y1="-192.0" x2="0.0" y2="192.0"/>
<line x1="-166.3" y1="-96.0" x2="166.3" y2="96.0"/>
<line x1="-166.3" y1="96.0" x2="166.3" y2="-96.0"/>
<circle cx="0" cy="0" r="93.4"/>
</g>
<use href="#coast" fill="none" stroke="#1e1e1e" stroke-width="1.15" stroke-linejoin="round"/>
<g filter="url(#blur2)"><g clip-path="url(#coastclip)"><polygon points="-101.2,-3.2 -92.1,-7.1 -79.1,-4.5 -66.1,-1.9 -58.4,1.9 -55.8,7.1 -54.5,13.6 -42.8,24.0 -32.4,33.1 -25.9,40.9 -22.0,50.0 -26.0,60.0 -28.0,75.0 -40.0,85.0 -100.0,60.0 -112.0,20.0 -106.0,0.0" fill="#7e7e7e"/></g></g>
<g filter="url(#blur2)"><polygon points="-88.2,27.9 -84.3,25.3 -76.5,22.7 -71.3,17.5 -67.4,17.5 -68.7,26.6 -71.3,38.3 -79.1,39.6 -88.2,38.3" fill="#eceefb"/></g>
</g>
<g transform="translate(1091.8,2246.6)">
<use href="#coast" fill="#eceefb"/>
<g clip-path="url(#coastclip)">
<polygon points="-30.0,-110.0 -18.5,-107.5 -11.5,-103.5 -8.4,-98.5 -9.4,-94.4 -13.5,-91.4 -18.5,-88.4 -23.6,-80.3 -28.6,-76.3 -40.0,-80.0 -40.0,-110.0" fill="#f7e5e6" stroke="#f7e5e6" stroke-width="0.8" stroke-linejoin="round"/>
<polygon points="75.0,-140.0 170.0,-140.0 170.0,-86.0 122.4,-85.7 115.7,-83.3 108.4,-79.6 103.5,-75.9 101.0,-68.6 89.4,-66.3 76.4,-65.0 67.3,-62.4 55.7,-62.0 60.9,-70.2 63.4,-79.2 66.0,-87.0 71.2,-92.2 70.7,-101.3 71.2,-109.1 71.5,-112.0" fill="#f7e5e6" stroke="#f7e5e6" stroke-width="0.8" stroke-linejoin="round"/>
<polygon points="119.0,-34.5 125.0,-45.0 170.0,-40.0 170.0,40.0 147.6,36.7 136.6,35.5 124.3,34.3 112.1,31.8 104.7,23.3 99.8,17.1 93.1,6.1 99.8,-4.9 113.3,-19.6" fill="#f7e5e6" stroke="#f7e5e6" stroke-width="0.8" stroke-linejoin="round"/>
<polygon points="84.0,7.0 93.1,6.1 99.8,17.1 104.7,23.3 112.1,31.8 124.3,34.3 136.6,35.5 147.6,36.7 170.0,40.0 150.0,95.0 112.1,93.1 103.5,94.3 93.7,89.4 87.6,79.6 84.0,71.0 81.0,60.0 78.0,53.0 76.0,42.0 75.5,30.0 76.0,24.0 83.0,16.0" fill="#f2c2c6" stroke="#f2c2c6" stroke-width="0.8" stroke-linejoin="round"/>
<polygon points="38.6,100.4 50.8,87.0 63.1,74.0 75.3,68.6 82.7,67.4 84.0,71.0 87.6,79.6 93.7,89.4 103.5,94.3 112.1,93.1 130.0,100.0 80.0,140.0 46.0,125.0 47.2,115.1 44.7,105.3 41.0,98.0" fill="#f7e5e6" stroke="#f7e5e6" stroke-width="0.8" stroke-linejoin="round"/>
<polygon points="-38.3,-37.0 -29.8,-35.7 -19.5,-33.1 -14.3,-27.9 -6.5,-25.3 2.6,-24.0 9.1,-20.1 19.5,-17.5 32.4,-16.9 44.0,-15.8 38.9,-9.0 27.2,0.6 13.0,5.8 0.0,9.7 -11.7,5.8 -27.2,7.1 -36.5,9.0 -35.7,-8.4 -36.3,-17.5 -38.3,-23.9 -45.0,-30.0" fill="#f7e5e6" stroke="#f7e5e6" stroke-width="0.8" stroke-linejoin="round"/>
<polygon points="-38.3,-23.9 -36.3,-17.5 -35.7,-8.4 -36.5,9.0 -42.8,11.0 -51.9,11.0 -60.4,8.1 -65.0,3.4 -73.0,-1.2 -77.6,2.3 -85.7,2.3 -90.3,-2.3 -96.1,-4.6 -97.7,-5.9 -96.6,-16.0 -95.6,-26.1 -93.6,-45.3 -80.0,-55.0 -60.0,-45.0 -45.0,-30.0" fill="#f7e5e6" stroke="#f7e5e6" stroke-width="0.8" stroke-linejoin="round"/>
<polygon points="-121.9,-47.3 -170.0,-30.0 -170.0,-130.0 -90.0,-130.0 -100.0,-62.0 -109.8,-54.3 -113.8,-53.3 -117.8,-50.3" fill="#f7e5e6" stroke="#f7e5e6" stroke-width="0.8" stroke-linejoin="round"/>
<polygon points="-121.9,-47.3 -117.8,-50.3 -113.8,-53.3 -109.8,-54.3 -100.0,-62.0 -93.6,-45.3 -95.6,-26.1 -96.6,-16.0 -97.7,-14.0 -101.7,-16.0 -105.7,-18.0 -130.0,-20.0 -140.0,-40.0" fill="#f7e5e6" stroke="#f7e5e6" stroke-width="0.8" stroke-linejoin="round"/>
<polygon points="-130.0,-20.0 -105.7,-18.0 -101.7,-16.0 -97.7,-14.0 -97.7,-5.9 -100.1,0.0 -101.0,5.0 -101.3,12.7 -104.0,24.0 -130.0,30.0" fill="#f7e5e6" stroke="#f7e5e6" stroke-width="0.8" stroke-linejoin="round"/>
<polygon points="-100.1,0.0 -96.1,-4.6 -90.3,-2.3 -85.7,2.3 -77.6,2.3 -73.0,-1.2 -65.0,3.4 -60.4,8.1 -65.0,19.6 -66.1,28.8 -69.6,38.0 -71.9,44.9 -82.3,41.5 -90.3,40.3 -95.0,40.0 -104.0,24.0 -101.3,12.7 -101.0,5.0" fill="#ff3434" stroke="#ff3434" stroke-width="0.8" stroke-linejoin="round"/>
<polygon points="-79.3,9.9 -76.5,9.2 -64.9,9.9 -63.5,12.1 -64.9,21.4 -65.6,28.6 -68.5,39.4 -70.7,43.0 -82.2,41.6 -85.8,37.3 -87.3,22.9 -84.4,18.5 -80.1,14.9" fill="#f25a62" stroke="#f25a62" stroke-width="0.8" stroke-linejoin="round"/>
<polygon points="-95.0,40.0 -90.3,40.3 -82.3,41.5 -71.9,44.9 -69.6,51.9 -62.7,58.8 -55.7,64.5 -46.5,61.1 -39.6,63.4 -37.3,70.3 -33.0,80.0 -60.0,90.0 -100.0,60.0" fill="#f2c2c6" stroke="#f2c2c6" stroke-width="0.8" stroke-linejoin="round"/>
</g>
<polygon points="-124,-44 -115.6,-44.6 -108.5,-43.6 -107,-38.5 -108.5,-33.5 -110.8,-31 -114,-32.5 -116,-37 -121,-40.5" fill="#fdfdfd" fill-opacity="0.85"/>
<circle cx="-1.5" cy="0.5" r="9" fill="#fff" fill-opacity="0.95" filter="url(#blur1)"/>
<g fill="none" stroke="#999999" stroke-opacity="0.6" stroke-width="1.1" stroke-dasharray="3.5,2.3">
<line x1="-0.0" y1="-192.0" x2="0.0" y2="192.0"/>
<line x1="-166.3" y1="-96.0" x2="166.3" y2="96.0"/>
<line x1="-166.3" y1="96.0" x2="166.3" y2="-96.0"/>
<circle cx="0" cy="0" r="93.4"/>
</g>
<use href="#coast" fill="none" stroke="#1e1e1e" stroke-width="1.15" stroke-linejoin="round"/>
<g filter="url(#blur2)"><g clip-path="url(#coastclip)"><polygon points="5.5,-140.0 75.0,-140.0 71.5,-112.0 71.2,-109.1 70.7,-101.3 71.2,-92.2 66.0,-87.0 63.4,-79.2 60.9,-70.2 55.7,-62.0 50.0,-63.0 45.3,-67.6 40.1,-75.3 32.3,-81.8 23.2,-87.0 17.5,-94.2 12.9,-102.6 6.4,-111.7 5.7,-118.1" fill="#7e7e7e"/></g></g>
</g>
<text x="464.6" y="1292.8" font-size="37.0" textLength="453.7" lengthAdjust="spacingAndGlyphs">Linear Trend 2003 — 2019</text>
<text x="450.6" y="1945.0" font-size="37.7" textLength="481.8" lengthAdjust="spacingAndGlyphs">Linear Trend 2020 — 2024</text>
<text x="224.9" y="1341" font-size="29.3" textLength="65.5" lengthAdjust="spacingAndGlyphs">GMB</text>
<text x="634.6" y="1341" font-size="29.3" textLength="62.6" lengthAdjust="spacingAndGlyphs">SMB</text>
<text x="1018" y="1341" font-size="29.3" textLength="148.8" lengthAdjust="spacingAndGlyphs">Discharge</text>
<text x="223.9" y="1993.4" font-size="32.5" textLength="69.3" lengthAdjust="spacingAndGlyphs">GMB</text>
<text x="632.0" y="1993.4" font-size="32.5" textLength="67.8" lengthAdjust="spacingAndGlyphs">SMB</text>
<text x="1011.7" y="1993.4" font-size="32.5" textLength="160.4" lengthAdjust="spacingAndGlyphs">Discharge</text>
<text x="80.6" y="1369.6" font-size="31.5">b)</text>
<text x="483.1" y="1369.6" font-size="31.5">c)</text>
<text x="909.1" y="1369.6" font-size="31.5">d)</text>
<text x="77.8" y="2021.5" font-size="31.5">e)</text>
<text x="483.1" y="2021.5" font-size="31.5">f)</text>
<text x="909.1" y="2021.5" font-size="31.5">g)</text>
<text x="110.6" y="1839.7" font-size="24.5" textLength="297.4" lengthAdjust="spacingAndGlyphs" fill="#000">AIS Trend: -100.6 Gt yr<tspan dx="0.5" dy="-9.3" font-size="17.1">−1</tspan></text>
<text x="524.8" y="1839.7" font-size="24.5" textLength="282" lengthAdjust="spacingAndGlyphs" fill="#000">AIS Trend: -23.4 Gt yr<tspan dx="0.5" dy="-9.3" font-size="17.1">−1</tspan></text>
<text x="949.8" y="1839.7" font-size="24.5" textLength="282" lengthAdjust="spacingAndGlyphs" fill="#000">AIS Trend: -69.9 Gt yr<tspan dx="0.5" dy="-9.3" font-size="17.1">−1</tspan></text>
<text x="123.2" y="2491.3" font-size="24.5" textLength="272.3" lengthAdjust="spacingAndGlyphs" fill="#000">AIS Trend: 67.5 Gt yr<tspan dx="0.5" dy="-9.3" font-size="17.1">−1</tspan></text>
<text x="521.3" y="2491.3" font-size="24.5" textLength="289" lengthAdjust="spacingAndGlyphs" fill="#000">AIS Trend: 219.9 Gt yr<tspan dx="0.5" dy="-9.3" font-size="17.1">−1</tspan></text>
<text x="942.3" y="2491.3" font-size="24.5" textLength="297" lengthAdjust="spacingAndGlyphs" fill="#000">AIS Trend: -168.8 Gt yr<tspan dx="0.5" dy="-9.3" font-size="17.1">−1</tspan></text>
<rect x="1279.2" y="1459.2" width="13.1" height="25.9" fill="#7f7fff"/>
<rect x="1279.2" y="1484.8" width="13.1" height="25.9" fill="#a0a0ff"/>
<rect x="1279.2" y="1510.4" width="13.1" height="24.0" fill="#c6c6ff"/>
<rect x="1279.2" y="1534.1" width="13.1" height="24.6" fill="#eaeafb"/>
<rect x="1279.2" y="1558.4" width="13.1" height="24.6" fill="#f8e6e6"/>
<rect x="1279.2" y="1582.7" width="13.1" height="24.6" fill="#f2c2c6"/>
<rect x="1279.2" y="1607.0" width="13.1" height="25.3" fill="#ee9ca2"/>
<rect x="1279.2" y="1632.0" width="13.1" height="24.6" fill="#f07a82"/>
<rect x="1279.2" y="1656.3" width="13.1" height="24.6" fill="#f2545c"/>
<rect x="1279.2" y="1680.6" width="13.1" height="24.0" fill="#f83c3c"/>
<rect x="1279.2" y="1704.3" width="13.1" height="24.6" fill="#fe2020"/>
<polygon points="1279.2,1459.2 1285.8,1447.0 1292.3,1459.2" fill="#0000ff"/>
<polygon points="1279.2,1728.6 1285.8,1743.4 1292.3,1728.6" fill="#ff1a1a"/>
<path d="M1279.2,1459.2 L1285.8,1447.0 L1292.3,1459.2 L1292.3,1728.6 L1285.8,1743.4 L1279.2,1728.6 Z" fill="none" stroke="#000" stroke-width="1.3"/>
<line x1="1292.3" y1="1460.5" x2="1301.3" y2="1460.5" stroke="#000" stroke-width="1.3"/>
<text x="1310.3" y="1469.5" font-size="25">36</text>
<line x1="1292.3" y1="1511.0" x2="1301.3" y2="1511.0" stroke="#000" stroke-width="1.3"/>
<text x="1310.3" y="1520.0" font-size="25">18</text>
<line x1="1292.3" y1="1559.0" x2="1301.3" y2="1559.0" stroke="#000" stroke-width="1.3"/>
<text x="1310.3" y="1568.0" font-size="25">-1</text>
<line x1="1292.3" y1="1607.7" x2="1301.3" y2="1607.7" stroke="#000" stroke-width="1.3"/>
<text x="1310.3" y="1616.7" font-size="25">-20</text>
<line x1="1292.3" y1="1656.3" x2="1301.3" y2="1656.3" stroke="#000" stroke-width="1.3"/>
<text x="1310.3" y="1665.3" font-size="25">-38</text>
<line x1="1292.3" y1="1705.0" x2="1301.3" y2="1705.0" stroke="#000" stroke-width="1.3"/>
<text x="1310.3" y="1714.0" font-size="25">-57</text>
<text x="1380" y="1597.0" font-size="25" text-anchor="middle" transform="rotate(-90 1380 1597.0)" textLength="80" lengthAdjust="spacingAndGlyphs">Gt yr<tspan dy="-9" font-size="17">−1</tspan></text>
<rect x="1279.2" y="2110.8" width="13.1" height="25.9" fill="#7f7fff"/>
<rect x="1279.2" y="2136.4" width="13.1" height="25.9" fill="#a0a0ff"/>
<rect x="1279.2" y="2162.0" width="13.1" height="24.0" fill="#c6c6ff"/>
<rect x="1279.2" y="2185.7" width="13.1" height="24.6" fill="#eaeafb"/>
<rect x="1279.2" y="2210.0" width="13.1" height="24.6" fill="#f8e6e6"/>
<rect x="1279.2" y="2234.3" width="13.1" height="24.6" fill="#f2c2c6"/>
<rect x="1279.2" y="2258.6" width="13.1" height="25.3" fill="#ee9ca2"/>
<rect x="1279.2" y="2283.6" width="13.1" height="24.6" fill="#f07a82"/>
<rect x="1279.2" y="2307.9" width="13.1" height="24.6" fill="#f2545c"/>
<rect x="1279.2" y="2332.2" width="13.1" height="24.0" fill="#f83c3c"/>
<rect x="1279.2" y="2355.9" width="13.1" height="24.6" fill="#fe2020"/>
<polygon points="1279.2,2110.8 1285.8,2098.6 1292.3,2110.8" fill="#0000ff"/>
<polygon points="1279.2,2380.2 1285.8,2395.0 1292.3,2380.2" fill="#ff1a1a"/>
<path d="M1279.2,2110.8 L1285.8,2098.6 L1292.3,2110.8 L1292.3,2380.2 L1285.8,2395.0 L1279.2,2380.2 Z" fill="none" stroke="#000" stroke-width="1.3"/>
<line x1="1292.3" y1="2112.1" x2="1301.3" y2="2112.1" stroke="#000" stroke-width="1.3"/>
<text x="1310.3" y="2121.1" font-size="25">36</text>
<line x1="1292.3" y1="2162.6" x2="1301.3" y2="2162.6" stroke="#000" stroke-width="1.3"/>
<text x="1310.3" y="2171.6" font-size="25">18</text>
<line x1="1292.3" y1="2210.6" x2="1301.3" y2="2210.6" stroke="#000" stroke-width="1.3"/>
<text x="1310.3" y="2219.6" font-size="25">-1</text>
<line x1="1292.3" y1="2259.3" x2="1301.3" y2="2259.3" stroke="#000" stroke-width="1.3"/>
<text x="1310.3" y="2268.3" font-size="25">-20</text>
<line x1="1292.3" y1="2307.9" x2="1301.3" y2="2307.9" stroke="#000" stroke-width="1.3"/>
<text x="1310.3" y="2316.9" font-size="25">-38</text>
<line x1="1292.3" y1="2356.6" x2="1301.3" y2="2356.6" stroke="#000" stroke-width="1.3"/>
<text x="1310.3" y="2365.6" font-size="25">-57</text>
<text x="1380" y="2248.6" font-size="25" text-anchor="middle" transform="rotate(-90 1380 2248.6)" textLength="80" lengthAdjust="spacingAndGlyphs">Gt yr<tspan dy="-9" font-size="17">−1</tspan></text>
</svg></body></html>
